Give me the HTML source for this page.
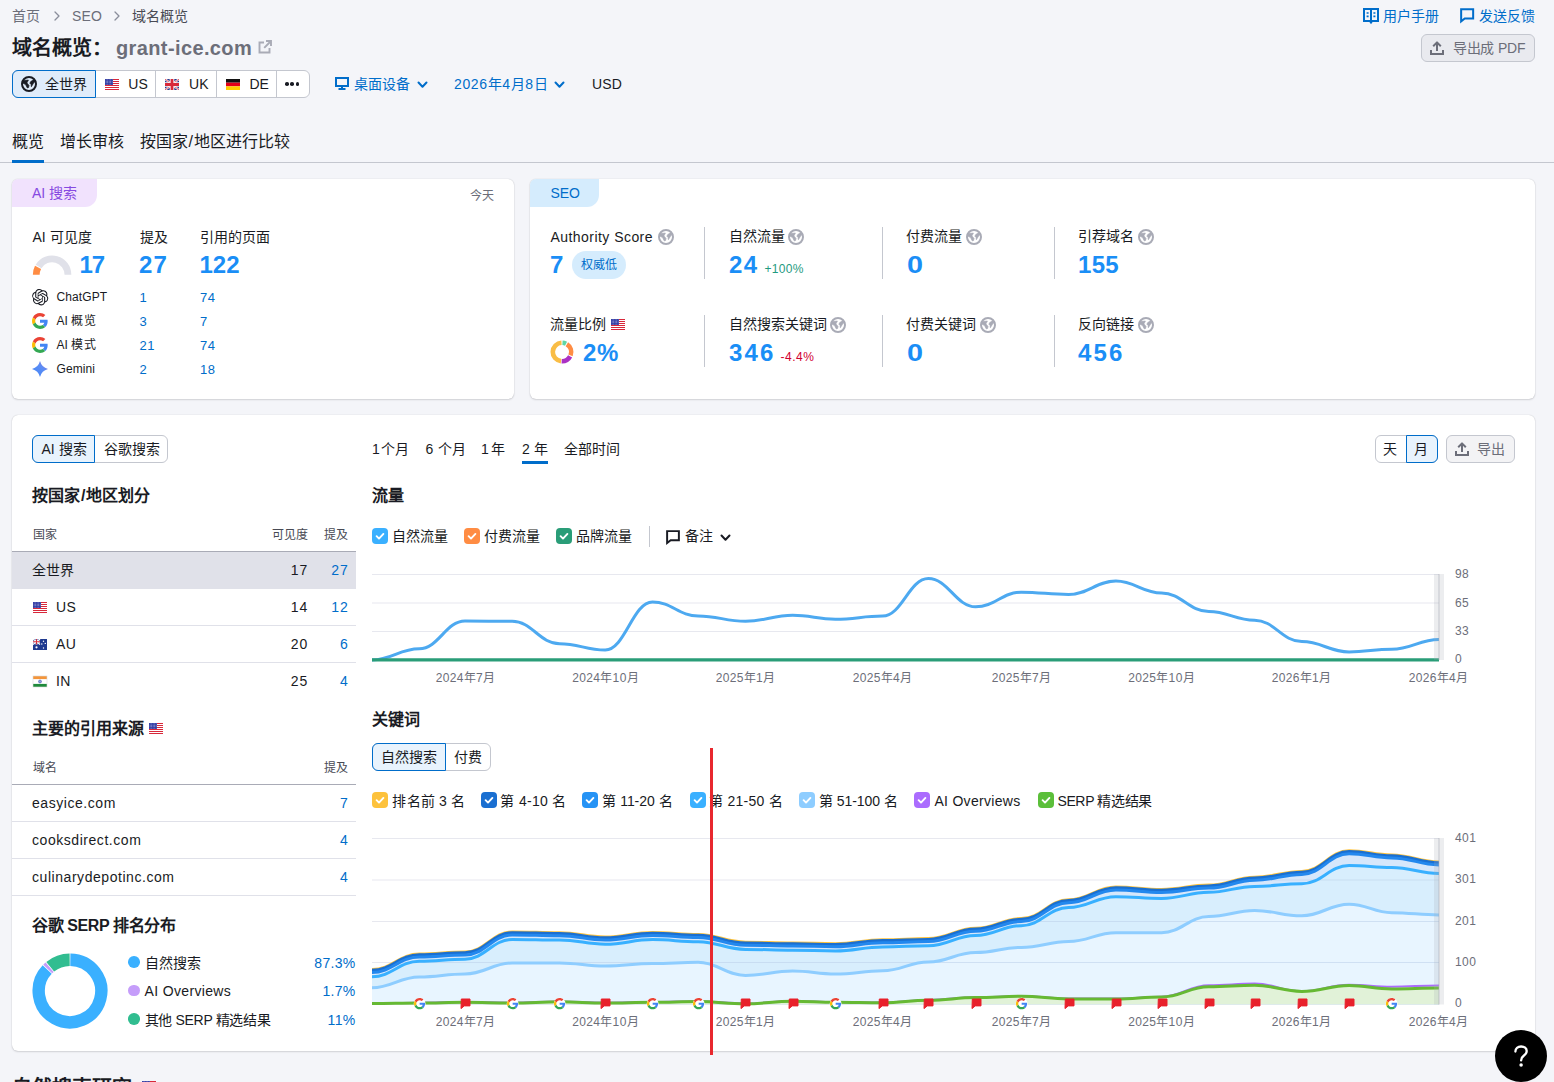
<!DOCTYPE html>
<html lang="zh-CN"><head><meta charset="utf-8"><title>域名概览</title><style>
html,body{margin:0;padding:0;}
body{width:1554px;height:1082px;overflow:hidden;background:#f4f5f9;font-family:"Liberation Sans", sans-serif;color:#191b23;position:relative;}
.a{position:absolute;box-sizing:border-box;}
.t{position:absolute;white-space:nowrap;}
.card{position:absolute;background:#fff;border-radius:6px;box-shadow:0 0 1px rgba(25,27,35,.25),0 1px 2px rgba(25,27,35,.14);}
svg{overflow:visible;display:block}
</style></head><body>
<div class="t" style="left:12px;top:9.45px;font-size:14px;line-height:14px;color:#6c6e79;">首页</div>
<svg class="a" style="left:54px;top:11px;" width="6" height="10" viewBox="0 0 6 10"><path d="M1 1L5 5L1 9" fill="none" stroke="#8a8e9b" stroke-width="1.3" stroke-linecap="round" stroke-linejoin="round"/></svg>
<div class="t" style="left:72px;top:9.15px;font-size:14px;line-height:14px;color:#6c6e79;letter-spacing:0.2px;">SEO</div>
<svg class="a" style="left:114px;top:11px;" width="6" height="10" viewBox="0 0 6 10"><path d="M1 1L5 5L1 9" fill="none" stroke="#8a8e9b" stroke-width="1.3" stroke-linecap="round" stroke-linejoin="round"/></svg>
<div class="t" style="left:132px;top:9.45px;font-size:14px;line-height:14px;color:#484a54;">域名概览</div>
<div class="t" style="left:12px;top:37.57px;font-size:20px;line-height:20px;color:#191b23;font-weight:700;">域名概览：</div>
<div class="t" style="left:116px;top:37.57px;font-size:20px;line-height:20px;color:#6c6e79;font-weight:700;letter-spacing:0.38px;">grant-ice.com</div>
<svg class="a" style="left:258px;top:40px;" width="14" height="14" viewBox="0 0 14 14"><path d="M6 2.5H1.5V12.5H11.5V8" fill="none" stroke="#a9abb6" stroke-width="1.9"/><path d="M8 1H13V6M13 1L6.2 7.8" fill="none" stroke="#a9abb6" stroke-width="1.9"/></svg>
<svg class="a" style="left:1363px;top:8px;" width="16" height="16" viewBox="0 0 16 16"><path d="M1 1H15V13H9.2L8 14.6L6.8 13H1z" fill="none" stroke="#006dca" stroke-width="2" stroke-linejoin="miter"/><path d="M8 1V13.5" stroke="#006dca" stroke-width="2"/><path d="M3.6 5H5.6M3.6 8.4H5.6M10.4 5H12.4M10.4 8.4H12.4" stroke="#006dca" stroke-width="1.7"/></svg>
<div class="t" style="left:1382.6px;top:9.45px;font-size:14px;line-height:14px;color:#006dca;">用户手册</div>
<svg class="a" style="left:1460px;top:8px;width:14.3px;height:14.3px;" width="15" height="15" viewBox="0 0 15 15"><path d="M1.2 1.2H13.8V11H5L1.2 14z" fill="none" stroke="#006dca" stroke-width="2.1" stroke-linejoin="miter"/></svg>
<div class="t" style="left:1478.8px;top:9.45px;font-size:14px;line-height:14px;color:#006dca;">发送反馈</div>
<div class="a" style="left:1421px;top:34px;width:114px;height:28px;background:rgba(138,142,155,.1);border:1px solid #c4c7cf;border-radius:6px;"></div>
<svg class="a" style="left:1430px;top:41px;" width="14" height="14" viewBox="0 0 14 14"><path d="M1 9V13H13V9" fill="none" stroke="#6c6e79" stroke-width="2" stroke-linejoin="miter"/><path d="M7 10V2M3.2 5.2L7 1.4L10.8 5.2" fill="none" stroke="#6c6e79" stroke-width="2" stroke-linejoin="round" stroke-linecap="butt"/></svg>
<div class="t" style="left:1452.8px;top:41.45px;font-size:14px;line-height:14px;color:#6c6e79;letter-spacing:-0.2px;">导出成 PDF</div>
<div class="a" style="left:12px;top:70px;width:298px;height:28px;background:#fff;border:1px solid #c4c7cf;border-radius:6px;"></div>
<div class="a" style="left:12px;top:70px;width:84px;height:28px;background:#e0ecfa;border:1px solid #006dca;border-radius:6px 0 0 6px;"></div>
<div class="a" style="left:155px;top:71px;width:1px;height:26px;background:#c4c7cf;"></div>
<div class="a" style="left:216px;top:71px;width:1px;height:26px;background:#c4c7cf;"></div>
<div class="a" style="left:276px;top:71px;width:1px;height:26px;background:#c4c7cf;"></div>
<svg class="a" style="left:21px;top:76px;" width="16" height="16" viewBox="0 0 16 16"><circle cx="8" cy="8" r="7" fill="none" stroke="#191b23" stroke-width="2"/><path d="M1.6 4.5L7.4 4.1L5.9 6.9L8 9.4L7.6 11.5L6.3 11.9L4.6 8.6L1.8 7.1z" fill="#191b23" stroke="#191b23" stroke-width=".7" stroke-linejoin="round"/><path d="M12.6 3.7L9.7 5.6L8.9 7.2L10.1 8.4L10.35 10.7L12.6 7L14.4 5.2z" fill="#191b23" stroke="#191b23" stroke-width=".7" stroke-linejoin="round"/></svg>
<div class="t" style="left:45.3px;top:77.45px;font-size:14px;line-height:14px;color:#191b23;">全世界</div>
<svg class="a" style="left:105px;top:79px;overflow:hidden" width="14" height="11" viewBox="0 0 14 11"><g shape-rendering="crispEdges"><rect width="14" height="11" fill="#fff"/><rect x="0" y="0" width="14" height="1" fill="#d8283a"/><rect x="0" y="2" width="14" height="1" fill="#d8283a"/><rect x="0" y="4" width="14" height="1" fill="#d8283a"/><rect x="0" y="6" width="14" height="1" fill="#d8283a"/><rect x="0" y="8" width="14" height="1" fill="#d8283a"/><rect x="0" y="10" width="14" height="1" fill="#d8283a"/><rect width="8" height="6" fill="#2f3aa3"/></g><circle cx="1.10" cy="0.90" r=".42" fill="#fff" opacity=".8"/><circle cx="1.10" cy="2.30" r=".42" fill="#fff" opacity=".8"/><circle cx="1.10" cy="3.70" r=".42" fill="#fff" opacity=".8"/><circle cx="1.10" cy="5.10" r=".42" fill="#fff" opacity=".8"/><circle cx="2.60" cy="0.90" r=".42" fill="#fff" opacity=".8"/><circle cx="2.60" cy="2.30" r=".42" fill="#fff" opacity=".8"/><circle cx="2.60" cy="3.70" r=".42" fill="#fff" opacity=".8"/><circle cx="2.60" cy="5.10" r=".42" fill="#fff" opacity=".8"/><circle cx="4.10" cy="0.90" r=".42" fill="#fff" opacity=".8"/><circle cx="4.10" cy="2.30" r=".42" fill="#fff" opacity=".8"/><circle cx="4.10" cy="3.70" r=".42" fill="#fff" opacity=".8"/><circle cx="4.10" cy="5.10" r=".42" fill="#fff" opacity=".8"/><circle cx="5.60" cy="0.90" r=".42" fill="#fff" opacity=".8"/><circle cx="5.60" cy="2.30" r=".42" fill="#fff" opacity=".8"/><circle cx="5.60" cy="3.70" r=".42" fill="#fff" opacity=".8"/><circle cx="5.60" cy="5.10" r=".42" fill="#fff" opacity=".8"/><circle cx="7.10" cy="0.90" r=".42" fill="#fff" opacity=".8"/><circle cx="7.10" cy="2.30" r=".42" fill="#fff" opacity=".8"/><circle cx="7.10" cy="3.70" r=".42" fill="#fff" opacity=".8"/><circle cx="7.10" cy="5.10" r=".42" fill="#fff" opacity=".8"/></svg>
<div class="t" style="left:128.3px;top:77.15px;font-size:14px;line-height:14px;color:#191b23;letter-spacing:0.1px;">US</div>
<svg class="a" style="left:165px;top:79px;overflow:hidden" width="14" height="11" viewBox="0 0 14 11"><rect width="14" height="11" fill="#2a3b8f"/><path d="M0 0L14 11M14 0L0 11" stroke="#fff" stroke-width="2"/><path d="M0 0L14 11M14 0L0 11" stroke="#d8283a" stroke-width="0.8"/><path d="M7.0 0V11M0 5.5H14" stroke="#fff" stroke-width="4.6"/><path d="M7.0 0V11M0 5.5H14" stroke="#d8283a" stroke-width="2.8"/></svg>
<div class="t" style="left:189px;top:77.15px;font-size:14px;line-height:14px;color:#191b23;letter-spacing:0.1px;">UK</div>
<svg class="a" style="left:226px;top:79px;" width="14" height="11" viewBox="0 0 14 11"><rect width="14" height="3.67" fill="#111"/><rect y="3.67" width="14" height="3.67" fill="#e2001a"/><rect y="7.33" width="14" height="3.67" fill="#ffce00"/></svg>
<div class="t" style="left:249.5px;top:77.15px;font-size:14px;line-height:14px;color:#191b23;">DE</div>
<div class="a" style="left:285.0px;top:82.4px;width:3.6px;height:3.6px;background:#191b23;border-radius:50%;"></div>
<div class="a" style="left:290.3px;top:82.4px;width:3.6px;height:3.6px;background:#191b23;border-radius:50%;"></div>
<div class="a" style="left:295.6px;top:82.4px;width:3.6px;height:3.6px;background:#191b23;border-radius:50%;"></div>
<svg class="a" style="left:335px;top:77px;" width="14" height="13" viewBox="0 0 14 13"><rect x="1" y="1" width="12" height="8" fill="none" stroke="#006dca" stroke-width="2"/><path d="M7 9V12M3.5 12H10.5" stroke="#006dca" stroke-width="2"/></svg>
<div class="t" style="left:354px;top:77.45px;font-size:14px;line-height:14px;color:#006dca;">桌面设备</div>
<svg class="a" style="left:416.5px;top:80.5px;" width="11" height="7.6" viewBox="0 0 11 7.6"><path d="M1.5 1.5L5.5 5.8L9.5 1.5" fill="none" stroke="#006dca" stroke-width="2" stroke-linecap="round" stroke-linejoin="round"/></svg>
<div class="t" style="left:454px;top:77.15px;font-size:14px;line-height:14px;color:#006dca;letter-spacing:0.6px;">2026年4月8日</div>
<svg class="a" style="left:553.5px;top:80.5px;" width="11" height="7.6" viewBox="0 0 11 7.6"><path d="M1.5 1.5L5.5 5.8L9.5 1.5" fill="none" stroke="#006dca" stroke-width="2" stroke-linecap="round" stroke-linejoin="round"/></svg>
<div class="t" style="left:592px;top:77.15px;font-size:14px;line-height:14px;color:#191b23;letter-spacing:0.2px;">USD</div>
<div class="t" style="left:12px;top:134.46px;font-size:16px;line-height:16px;color:#191b23;">概览</div>
<div class="t" style="left:60px;top:134.46px;font-size:16px;line-height:16px;color:#191b23;">增长审核</div>
<div class="t" style="left:140px;top:134.46px;font-size:16px;line-height:16px;color:#191b23;">按国家<span style="margin:0 0.6px">/</span>地区进行比较</div>
<div class="a" style="left:0px;top:162px;width:1554px;height:1px;background:#c4c7cf;"></div>
<div class="a" style="left:12px;top:160px;width:32px;height:3px;background:#006dca;"></div>
<div class="card" style="left:12px;top:179px;width:502px;height:220px;"></div>
<div class="card" style="left:530px;top:179px;width:1005px;height:220px;"></div>
<div class="a" style="left:12px;top:179px;width:85px;height:28px;background:#f1e2fd;border-radius:6px 0 12px 0;"></div>
<div class="t" style="left:32px;top:186.45px;font-size:14px;line-height:14px;color:#8649e1;">AI 搜索</div>
<div class="t" style="left:470px;top:190.24px;font-size:12px;line-height:12px;color:#6c6e79;">今天</div>
<div class="t" style="left:32.5px;top:229.95px;font-size:14px;line-height:14px;color:#191b23;">AI 可见度</div>
<div class="t" style="left:139.5px;top:229.95px;font-size:14px;line-height:14px;color:#191b23;">提及</div>
<div class="t" style="left:200px;top:229.95px;font-size:14px;line-height:14px;color:#191b23;">引用的页面</div>
<svg class="a" style="left:32px;top:254px;" width="40" height="22" viewBox="0 0 40 22"><path d="M6.59 12.42A15.85 15.85 0 0 1 35.95 20.70" fill="none" stroke="#e0e1e9" stroke-width="6.8"/><path d="M4.25 20.70A15.85 15.85 0 0 1 6.04 13.38" fill="none" stroke="#ff8c43" stroke-width="6.8"/></svg>
<div class="t" style="left:79.5px;top:252.68px;font-size:24px;line-height:24px;color:#1a8ef6;font-weight:700;letter-spacing:-1.2px;">17</div>
<div class="t" style="left:139px;top:252.68px;font-size:24px;line-height:24px;color:#1a8ef6;font-weight:700;letter-spacing:1.2px;">27</div>
<div class="t" style="left:199.5px;top:252.68px;font-size:24px;line-height:24px;color:#1a8ef6;font-weight:700;">122</div>
<div class="t" style="left:56.5px;top:291.14px;font-size:12px;line-height:12px;color:#191b23;letter-spacing:0.1px;">ChatGPT</div>
<div class="t" style="left:139.5px;top:290.70px;font-size:13px;line-height:13px;color:#006dca;letter-spacing:0.5px;">1</div>
<div class="t" style="left:200px;top:290.70px;font-size:13px;line-height:13px;color:#006dca;letter-spacing:0.5px;">74</div>
<div class="t" style="left:56.5px;top:315.14px;font-size:12px;line-height:12px;color:#191b23;letter-spacing:0.1px;">AI 概览</div>
<div class="t" style="left:139.5px;top:314.70px;font-size:13px;line-height:13px;color:#006dca;letter-spacing:0.5px;">3</div>
<div class="t" style="left:200px;top:314.70px;font-size:13px;line-height:13px;color:#006dca;letter-spacing:0.5px;">7</div>
<div class="t" style="left:56.5px;top:339.14px;font-size:12px;line-height:12px;color:#191b23;letter-spacing:0.1px;">AI 模式</div>
<div class="t" style="left:139.5px;top:338.70px;font-size:13px;line-height:13px;color:#006dca;letter-spacing:0.5px;">21</div>
<div class="t" style="left:200px;top:338.70px;font-size:13px;line-height:13px;color:#006dca;letter-spacing:0.5px;">74</div>
<div class="t" style="left:56.5px;top:363.14px;font-size:12px;line-height:12px;color:#191b23;letter-spacing:0.1px;">Gemini</div>
<div class="t" style="left:139.5px;top:362.70px;font-size:13px;line-height:13px;color:#006dca;letter-spacing:0.5px;">2</div>
<div class="t" style="left:200px;top:362.70px;font-size:13px;line-height:13px;color:#006dca;letter-spacing:0.5px;">18</div>
<svg class="a" style="left:31.8px;top:288.8px" width="16.4" height="16.4" viewBox="0 0 24 24"><path fill="#191b23" d="M22.2819 9.8211a5.9847 5.9847 0 0 0-.5157-4.9108 6.0462 6.0462 0 0 0-6.5098-2.9A6.0651 6.0651 0 0 0 4.9807 4.1818a5.9847 5.9847 0 0 0-3.9977 2.9 6.0462 6.0462 0 0 0 .7427 7.0966 5.98 5.98 0 0 0 .511 4.9107 6.051 6.051 0 0 0 6.5146 2.9001A5.9847 5.9847 0 0 0 13.2599 24a6.0557 6.0557 0 0 0 5.7718-4.2058 5.9894 5.9894 0 0 0 3.9977-2.9001 6.0557 6.0557 0 0 0-.7475-7.0729zm-9.022 12.6081a4.4755 4.4755 0 0 1-2.8764-1.0408l.1419-.0804 4.7783-2.7582a.7948.7948 0 0 0 .3927-.6813v-6.7369l2.02 1.1686a.071.071 0 0 1 .038.052v5.5826a4.504 4.504 0 0 1-4.4945 4.4944zm-9.6607-4.1254a4.4708 4.4708 0 0 1-.5346-3.0137l.142.0852 4.783 2.7582a.7712.7712 0 0 0 .7806 0l5.8428-3.3685v2.3324a.0804.0804 0 0 1-.0332.0615L9.74 19.9502a4.4992 4.4992 0 0 1-6.1408-1.6464zM2.3408 7.8956a4.485 4.485 0 0 1 2.3655-1.9728V11.6a.7664.7664 0 0 0 .3879.6765l5.8144 3.3543-2.0201 1.1685a.0757.0757 0 0 1-.071 0l-4.8303-2.7865A4.504 4.504 0 0 1 2.3408 7.872zm16.5963 3.8558L13.1038 8.364 15.1192 7.2a.0757.0757 0 0 1 .071 0l4.8303 2.7913a4.4944 4.4944 0 0 1-.6765 8.1042v-5.6772a.79.79 0 0 0-.407-.667zm2.0107-3.0231l-.142-.0852-4.7735-2.7818a.7759.7759 0 0 0-.7854 0L9.409 9.2297V6.8974a.0662.0662 0 0 1 .0284-.0615l4.8303-2.7866a4.4992 4.4992 0 0 1 6.6802 4.66zM8.3065 12.863l-2.02-1.1638a.0804.0804 0 0 1-.038-.0567V6.0742a4.4992 4.4992 0 0 1 7.3757-3.4537l-.142.0805L8.704 5.459a.7948.7948 0 0 0-.3927.6813zm1.0976-2.3654l2.602-1.4998 2.6069 1.4998v2.9994l-2.5974 1.4997-2.6067-1.4997Z"/></svg>
<svg class="a" style="left:32.0px;top:313.0px" width="16" height="16" viewBox="0 0 48 48"><path fill="#EA4335" d="M24 9.5c3.54 0 6.71 1.22 9.21 3.6l6.85-6.85C35.9 2.38 30.47 0 24 0 14.62 0 6.51 5.38 2.56 13.22l7.98 6.19C12.43 13.72 17.74 9.5 24 9.5z"/><path fill="#4285F4" d="M46.98 24.55c0-1.57-.15-3.09-.38-4.55H24v9.02h12.94c-.58 2.96-2.26 5.48-4.78 7.18l7.73 6c4.51-4.18 7.09-10.36 7.09-17.65z"/><path fill="#FBBC05" d="M10.53 28.59c-.48-1.45-.76-2.99-.76-4.59s.27-3.14.76-4.59l-7.98-6.19C.92 16.46 0 20.12 0 24c0 3.88.92 7.54 2.56 10.78l7.97-6.19z"/><path fill="#34A853" d="M24 48c6.48 0 11.93-2.13 15.89-5.81l-7.73-6c-2.15 1.45-4.92 2.3-8.16 2.3-6.26 0-11.57-4.22-13.47-9.91l-7.98 6.19C6.51 42.62 14.62 48 24 48z"/></svg>
<svg class="a" style="left:32.0px;top:337.0px" width="16" height="16" viewBox="0 0 48 48"><path fill="#EA4335" d="M24 9.5c3.54 0 6.71 1.22 9.21 3.6l6.85-6.85C35.9 2.38 30.47 0 24 0 14.62 0 6.51 5.38 2.56 13.22l7.98 6.19C12.43 13.72 17.74 9.5 24 9.5z"/><path fill="#4285F4" d="M46.98 24.55c0-1.57-.15-3.09-.38-4.55H24v9.02h12.94c-.58 2.96-2.26 5.48-4.78 7.18l7.73 6c4.51-4.18 7.09-10.36 7.09-17.65z"/><path fill="#FBBC05" d="M10.53 28.59c-.48-1.45-.76-2.99-.76-4.59s.27-3.14.76-4.59l-7.98-6.19C.92 16.46 0 20.12 0 24c0 3.88.92 7.54 2.56 10.78l7.97-6.19z"/><path fill="#34A853" d="M24 48c6.48 0 11.93-2.13 15.89-5.81l-7.73-6c-2.15 1.45-4.92 2.3-8.16 2.3-6.26 0-11.57-4.22-13.47-9.91l-7.98 6.19C6.51 42.62 14.62 48 24 48z"/></svg>
<svg class="a" style="left:32px;top:361px" width="16" height="16" viewBox="0 0 16 16"><defs><linearGradient id="gem" x1="0" y1="1" x2="1" y2="0"><stop offset="0" stop-color="#4285f4"/><stop offset=".6" stop-color="#5b8df6"/><stop offset="1" stop-color="#9b72cb"/></linearGradient></defs><path d="M8 0Q9.7 6.3 16 8Q9.7 9.7 8 16Q6.3 9.7 0 8Q6.3 6.3 8 0z" fill="url(#gem)"/></svg>
<div class="a" style="left:530px;top:179px;width:69px;height:28px;background:#d5ecfd;border-radius:6px 0 12px 0;"></div>
<div class="t" style="left:550.5px;top:186.35px;font-size:14px;line-height:14px;color:#006dca;letter-spacing:-0.1px;">SEO</div>
<div class="t" style="left:550.5px;top:229.95px;font-size:14px;line-height:14px;color:#191b23;letter-spacing:0.45px;">Authority Score</div>
<div class="t" style="left:550.0px;top:252.68px;font-size:24px;line-height:24px;color:#1a8ef6;font-weight:700;">7</div>
<svg class="a" style="left:658px;top:229px;" width="16" height="16" viewBox="0 0 16 16"><circle cx="8" cy="8" r="7" fill="none" stroke="#a9abb6" stroke-width="2"/><path d="M1.6 4.5L7.4 4.1L5.9 6.9L8 9.4L7.6 11.5L6.3 11.9L4.6 8.6L1.8 7.1z" fill="#a9abb6" stroke="#a9abb6" stroke-width=".7" stroke-linejoin="round"/><path d="M12.6 3.7L9.7 5.6L8.9 7.2L10.1 8.4L10.35 10.7L12.6 7L14.4 5.2z" fill="#a9abb6" stroke="#a9abb6" stroke-width=".7" stroke-linejoin="round"/></svg>
<div class="t" style="left:728.5px;top:229.15px;font-size:14px;line-height:14px;color:#191b23;">自然流量</div>
<div class="t" style="left:729.0px;top:252.68px;font-size:24px;line-height:24px;color:#1a8ef6;font-weight:700;letter-spacing:1.3px;">24</div>
<svg class="a" style="left:788px;top:229px;" width="16" height="16" viewBox="0 0 16 16"><circle cx="8" cy="8" r="7" fill="none" stroke="#a9abb6" stroke-width="2"/><path d="M1.6 4.5L7.4 4.1L5.9 6.9L8 9.4L7.6 11.5L6.3 11.9L4.6 8.6L1.8 7.1z" fill="#a9abb6" stroke="#a9abb6" stroke-width=".7" stroke-linejoin="round"/><path d="M12.6 3.7L9.7 5.6L8.9 7.2L10.1 8.4L10.35 10.7L12.6 7L14.4 5.2z" fill="#a9abb6" stroke="#a9abb6" stroke-width=".7" stroke-linejoin="round"/></svg>
<div class="t" style="left:906px;top:229.15px;font-size:14px;line-height:14px;color:#191b23;">付费流量</div>
<div class="t" style="left:906.5px;top:252.68px;font-size:24px;line-height:24px;color:#1a8ef6;font-weight:700;transform:scaleX(1.2);transform-origin:0 0;">0</div>
<svg class="a" style="left:966px;top:229px;" width="16" height="16" viewBox="0 0 16 16"><circle cx="8" cy="8" r="7" fill="none" stroke="#a9abb6" stroke-width="2"/><path d="M1.6 4.5L7.4 4.1L5.9 6.9L8 9.4L7.6 11.5L6.3 11.9L4.6 8.6L1.8 7.1z" fill="#a9abb6" stroke="#a9abb6" stroke-width=".7" stroke-linejoin="round"/><path d="M12.6 3.7L9.7 5.6L8.9 7.2L10.1 8.4L10.35 10.7L12.6 7L14.4 5.2z" fill="#a9abb6" stroke="#a9abb6" stroke-width=".7" stroke-linejoin="round"/></svg>
<div class="t" style="left:1077.5px;top:229.15px;font-size:14px;line-height:14px;color:#191b23;">引荐域名</div>
<div class="t" style="left:1078.0px;top:252.68px;font-size:24px;line-height:24px;color:#1a8ef6;font-weight:700;letter-spacing:0.3px;">155</div>
<svg class="a" style="left:1138px;top:229px;" width="16" height="16" viewBox="0 0 16 16"><circle cx="8" cy="8" r="7" fill="none" stroke="#a9abb6" stroke-width="2"/><path d="M1.6 4.5L7.4 4.1L5.9 6.9L8 9.4L7.6 11.5L6.3 11.9L4.6 8.6L1.8 7.1z" fill="#a9abb6" stroke="#a9abb6" stroke-width=".7" stroke-linejoin="round"/><path d="M12.6 3.7L9.7 5.6L8.9 7.2L10.1 8.4L10.35 10.7L12.6 7L14.4 5.2z" fill="#a9abb6" stroke="#a9abb6" stroke-width=".7" stroke-linejoin="round"/></svg>
<div class="t" style="left:549.5px;top:317.15px;font-size:14px;line-height:14px;color:#191b23;">流量比例</div>
<div class="t" style="left:728.5px;top:317.15px;font-size:14px;line-height:14px;color:#191b23;">自然搜索关键词</div>
<div class="t" style="left:729.0px;top:340.68px;font-size:24px;line-height:24px;color:#1a8ef6;font-weight:700;letter-spacing:2.1px;">346</div>
<svg class="a" style="left:830px;top:317px;" width="16" height="16" viewBox="0 0 16 16"><circle cx="8" cy="8" r="7" fill="none" stroke="#a9abb6" stroke-width="2"/><path d="M1.6 4.5L7.4 4.1L5.9 6.9L8 9.4L7.6 11.5L6.3 11.9L4.6 8.6L1.8 7.1z" fill="#a9abb6" stroke="#a9abb6" stroke-width=".7" stroke-linejoin="round"/><path d="M12.6 3.7L9.7 5.6L8.9 7.2L10.1 8.4L10.35 10.7L12.6 7L14.4 5.2z" fill="#a9abb6" stroke="#a9abb6" stroke-width=".7" stroke-linejoin="round"/></svg>
<div class="t" style="left:906px;top:317.15px;font-size:14px;line-height:14px;color:#191b23;">付费关键词</div>
<div class="t" style="left:906.5px;top:340.68px;font-size:24px;line-height:24px;color:#1a8ef6;font-weight:700;transform:scaleX(1.2);transform-origin:0 0;">0</div>
<svg class="a" style="left:980px;top:317px;" width="16" height="16" viewBox="0 0 16 16"><circle cx="8" cy="8" r="7" fill="none" stroke="#a9abb6" stroke-width="2"/><path d="M1.6 4.5L7.4 4.1L5.9 6.9L8 9.4L7.6 11.5L6.3 11.9L4.6 8.6L1.8 7.1z" fill="#a9abb6" stroke="#a9abb6" stroke-width=".7" stroke-linejoin="round"/><path d="M12.6 3.7L9.7 5.6L8.9 7.2L10.1 8.4L10.35 10.7L12.6 7L14.4 5.2z" fill="#a9abb6" stroke="#a9abb6" stroke-width=".7" stroke-linejoin="round"/></svg>
<div class="t" style="left:1077.5px;top:317.15px;font-size:14px;line-height:14px;color:#191b23;">反向链接</div>
<div class="t" style="left:1078.0px;top:340.68px;font-size:24px;line-height:24px;color:#1a8ef6;font-weight:700;letter-spacing:2.1px;">456</div>
<svg class="a" style="left:1138px;top:317px;" width="16" height="16" viewBox="0 0 16 16"><circle cx="8" cy="8" r="7" fill="none" stroke="#a9abb6" stroke-width="2"/><path d="M1.6 4.5L7.4 4.1L5.9 6.9L8 9.4L7.6 11.5L6.3 11.9L4.6 8.6L1.8 7.1z" fill="#a9abb6" stroke="#a9abb6" stroke-width=".7" stroke-linejoin="round"/><path d="M12.6 3.7L9.7 5.6L8.9 7.2L10.1 8.4L10.35 10.7L12.6 7L14.4 5.2z" fill="#a9abb6" stroke="#a9abb6" stroke-width=".7" stroke-linejoin="round"/></svg>
<svg class="a" style="left:611px;top:319.3px;overflow:hidden" width="14" height="11" viewBox="0 0 14 11"><g shape-rendering="crispEdges"><rect width="14" height="11" fill="#fff"/><rect x="0" y="0" width="14" height="1" fill="#d8283a"/><rect x="0" y="2" width="14" height="1" fill="#d8283a"/><rect x="0" y="4" width="14" height="1" fill="#d8283a"/><rect x="0" y="6" width="14" height="1" fill="#d8283a"/><rect x="0" y="8" width="14" height="1" fill="#d8283a"/><rect x="0" y="10" width="14" height="1" fill="#d8283a"/><rect width="8" height="6" fill="#2f3aa3"/></g><circle cx="1.10" cy="0.90" r=".42" fill="#fff" opacity=".8"/><circle cx="1.10" cy="2.30" r=".42" fill="#fff" opacity=".8"/><circle cx="1.10" cy="3.70" r=".42" fill="#fff" opacity=".8"/><circle cx="1.10" cy="5.10" r=".42" fill="#fff" opacity=".8"/><circle cx="2.60" cy="0.90" r=".42" fill="#fff" opacity=".8"/><circle cx="2.60" cy="2.30" r=".42" fill="#fff" opacity=".8"/><circle cx="2.60" cy="3.70" r=".42" fill="#fff" opacity=".8"/><circle cx="2.60" cy="5.10" r=".42" fill="#fff" opacity=".8"/><circle cx="4.10" cy="0.90" r=".42" fill="#fff" opacity=".8"/><circle cx="4.10" cy="2.30" r=".42" fill="#fff" opacity=".8"/><circle cx="4.10" cy="3.70" r=".42" fill="#fff" opacity=".8"/><circle cx="4.10" cy="5.10" r=".42" fill="#fff" opacity=".8"/><circle cx="5.60" cy="0.90" r=".42" fill="#fff" opacity=".8"/><circle cx="5.60" cy="2.30" r=".42" fill="#fff" opacity=".8"/><circle cx="5.60" cy="3.70" r=".42" fill="#fff" opacity=".8"/><circle cx="5.60" cy="5.10" r=".42" fill="#fff" opacity=".8"/><circle cx="7.10" cy="0.90" r=".42" fill="#fff" opacity=".8"/><circle cx="7.10" cy="2.30" r=".42" fill="#fff" opacity=".8"/><circle cx="7.10" cy="3.70" r=".42" fill="#fff" opacity=".8"/><circle cx="7.10" cy="5.10" r=".42" fill="#fff" opacity=".8"/></svg>
<div class="t" style="left:583px;top:340.68px;font-size:24px;line-height:24px;color:#1a8ef6;font-weight:700;letter-spacing:0.6px;">2%</div>
<div class="a" style="left:704px;top:227px;width:1px;height:52px;background:#c4c7cf;"></div>
<div class="a" style="left:704px;top:315px;width:1px;height:52px;background:#c4c7cf;"></div>
<div class="a" style="left:882px;top:227px;width:1px;height:52px;background:#c4c7cf;"></div>
<div class="a" style="left:882px;top:315px;width:1px;height:52px;background:#c4c7cf;"></div>
<div class="a" style="left:1054px;top:227px;width:1px;height:52px;background:#c4c7cf;"></div>
<div class="a" style="left:1054px;top:315px;width:1px;height:52px;background:#c4c7cf;"></div>
<div class="a" style="left:572px;top:251px;width:54px;height:28px;background:#d5ecfd;border-radius:14px;"></div>
<div class="t" style="left:581px;top:259.34px;font-size:12px;line-height:12px;color:#006dca;">权威低</div>
<div class="t" style="left:764.5px;top:262.84px;font-size:12px;line-height:12px;color:#1f9a80;letter-spacing:0.3px;">+100%</div>
<div class="t" style="left:780.5px;top:350.84px;font-size:12px;line-height:12px;color:#d1002f;letter-spacing:0.5px;">-4.4%</div>
<svg class="a" style="left:550px;top:340px;" width="24" height="24" viewBox="0 0 24 24"><path d="M12.48 2.81A9.2 9.2 0 0 1 16.03 3.73" fill="none" stroke="#5fd6a3" stroke-width="4.6"/><path d="M16.88 4.20A9.2 9.2 0 0 1 20.53 15.45" fill="none" stroke="#ff8c43" stroke-width="4.6"/><path d="M20.12 16.32A9.2 9.2 0 0 1 11.68 21.19" fill="none" stroke="#ab30c4" stroke-width="4.6"/><path d="M11.04 21.15A9.2 9.2 0 0 1 11.52 2.81" fill="none" stroke="#f9bd45" stroke-width="4.6"/></svg>
<div class="card" style="left:12px;top:415px;width:1523px;height:636px;"></div>
<div class="a" style="left:32px;top:435px;width:135.5px;height:28px;background:#fff;border:1px solid #c4c7cf;border-radius:6px;"></div>
<div class="a" style="left:32px;top:435px;width:63px;height:28px;background:#e8f3fd;border:1px solid #006dca;border-radius:6px 0 0 6px;"></div>
<div class="t" style="left:41.5px;top:442.35px;font-size:14px;line-height:14px;color:#191b23;">AI 搜索</div>
<div class="t" style="left:103.7px;top:442.35px;font-size:14px;line-height:14px;color:#191b23;">谷歌搜索</div>
<div class="t" style="left:32px;top:487.96px;font-size:16px;line-height:16px;color:#191b23;font-weight:700;">按国家<span style="margin:0 1px">/</span>地区划分</div>
<div class="t" style="left:32.5px;top:528.84px;font-size:12px;line-height:12px;color:#484a54;">国家</div>
<div class="t" style="right:1246.5px;top:528.84px;font-size:12px;line-height:12px;color:#484a54;">可见度</div>
<div class="t" style="right:1206.3px;top:528.84px;font-size:12px;line-height:12px;color:#484a54;">提及</div>
<div class="a" style="left:12px;top:551px;width:344px;height:1px;background:#a9abb6;"></div>
<div class="a" style="left:12px;top:552px;width:344px;height:36.5px;background:#e0e1e9;"></div>
<div class="a" style="left:12px;top:625px;width:344px;height:1px;background:#e0e1e9;"></div>
<div class="a" style="left:12px;top:662px;width:344px;height:1px;background:#e0e1e9;"></div>
<div class="t" style="left:32px;top:563.45px;font-size:14px;line-height:14px;color:#191b23;">全世界</div>
<div class="t" style="right:1245.6px;top:563.15px;font-size:14px;line-height:14px;color:#191b23;letter-spacing:1px;">17</div>
<div class="t" style="right:1205.3px;top:563.15px;font-size:14px;line-height:14px;color:#006dca;letter-spacing:1px;">27</div>
<svg class="a" style="left:33px;top:601.6px;overflow:hidden" width="14" height="11" viewBox="0 0 14 11"><g shape-rendering="crispEdges"><rect width="14" height="11" fill="#fff"/><rect x="0" y="0" width="14" height="1" fill="#d8283a"/><rect x="0" y="2" width="14" height="1" fill="#d8283a"/><rect x="0" y="4" width="14" height="1" fill="#d8283a"/><rect x="0" y="6" width="14" height="1" fill="#d8283a"/><rect x="0" y="8" width="14" height="1" fill="#d8283a"/><rect x="0" y="10" width="14" height="1" fill="#d8283a"/><rect width="8" height="6" fill="#2f3aa3"/></g><circle cx="1.10" cy="0.90" r=".42" fill="#fff" opacity=".8"/><circle cx="1.10" cy="2.30" r=".42" fill="#fff" opacity=".8"/><circle cx="1.10" cy="3.70" r=".42" fill="#fff" opacity=".8"/><circle cx="1.10" cy="5.10" r=".42" fill="#fff" opacity=".8"/><circle cx="2.60" cy="0.90" r=".42" fill="#fff" opacity=".8"/><circle cx="2.60" cy="2.30" r=".42" fill="#fff" opacity=".8"/><circle cx="2.60" cy="3.70" r=".42" fill="#fff" opacity=".8"/><circle cx="2.60" cy="5.10" r=".42" fill="#fff" opacity=".8"/><circle cx="4.10" cy="0.90" r=".42" fill="#fff" opacity=".8"/><circle cx="4.10" cy="2.30" r=".42" fill="#fff" opacity=".8"/><circle cx="4.10" cy="3.70" r=".42" fill="#fff" opacity=".8"/><circle cx="4.10" cy="5.10" r=".42" fill="#fff" opacity=".8"/><circle cx="5.60" cy="0.90" r=".42" fill="#fff" opacity=".8"/><circle cx="5.60" cy="2.30" r=".42" fill="#fff" opacity=".8"/><circle cx="5.60" cy="3.70" r=".42" fill="#fff" opacity=".8"/><circle cx="5.60" cy="5.10" r=".42" fill="#fff" opacity=".8"/><circle cx="7.10" cy="0.90" r=".42" fill="#fff" opacity=".8"/><circle cx="7.10" cy="2.30" r=".42" fill="#fff" opacity=".8"/><circle cx="7.10" cy="3.70" r=".42" fill="#fff" opacity=".8"/><circle cx="7.10" cy="5.10" r=".42" fill="#fff" opacity=".8"/></svg>
<div class="t" style="left:56px;top:600.25px;font-size:14px;line-height:14px;color:#191b23;letter-spacing:0.4px;">US</div>
<div class="t" style="right:1245.6px;top:600.25px;font-size:14px;line-height:14px;color:#191b23;letter-spacing:1px;">14</div>
<div class="t" style="right:1205.3px;top:600.25px;font-size:14px;line-height:14px;color:#006dca;letter-spacing:1px;">12</div>
<svg class="a" style="left:33px;top:638.7px;overflow:hidden" width="14" height="11" viewBox="0 0 14 11"><rect width="14" height="11" fill="#1f3a8f"/><g><rect width="7" height="5.5" fill="#1f3a8f"/><path d="M0 0L7 5.5M7 0L0 5.5" stroke="#fff" stroke-width="1.3"/><path d="M3.5 0V5.5M0 2.75H7" stroke="#fff" stroke-width="2"/><path d="M3.5 0V5.5M0 2.75H7" stroke="#d22f3c" stroke-width="1"/></g><circle cx="3.5" cy="8.3" r="1.1" fill="#fff"/><circle cx="10.5" cy="2.2" r=".7" fill="#fff"/><circle cx="10.5" cy="9" r=".7" fill="#fff"/><circle cx="8.8" cy="5" r=".7" fill="#fff"/><circle cx="12.3" cy="4.4" r=".7" fill="#fff"/></svg>
<div class="t" style="left:56px;top:637.35px;font-size:14px;line-height:14px;color:#191b23;letter-spacing:0.4px;">AU</div>
<div class="t" style="right:1245.6px;top:637.35px;font-size:14px;line-height:14px;color:#191b23;letter-spacing:1px;">20</div>
<div class="t" style="right:1205.3px;top:637.35px;font-size:14px;line-height:14px;color:#006dca;letter-spacing:1px;">6</div>
<svg class="a" style="left:33px;top:675.8px;" width="14" height="11" viewBox="0 0 14 11"><rect width="14" height="11" fill="#fff"/><rect width="14" height="3.1" fill="#f4953a"/><rect y="7.9" width="14" height="3.1" fill="#1f8a3b"/><circle cx="7.0" cy="5.5" r="1.5" fill="#8fa0dd" stroke="#3a4ba8" stroke-width=".5"/><rect width="14" height="11" fill="none" stroke="#d9d9d9" stroke-width=".6"/></svg>
<div class="t" style="left:56px;top:674.45px;font-size:14px;line-height:14px;color:#191b23;letter-spacing:0.4px;">IN</div>
<div class="t" style="right:1245.6px;top:674.45px;font-size:14px;line-height:14px;color:#191b23;letter-spacing:1px;">25</div>
<div class="t" style="right:1205.3px;top:674.45px;font-size:14px;line-height:14px;color:#006dca;letter-spacing:1px;">4</div>
<div class="t" style="left:32px;top:720.96px;font-size:16px;line-height:16px;color:#191b23;font-weight:700;">主要的引用来源</div>
<svg class="a" style="left:149px;top:722.5px;overflow:hidden" width="14" height="11" viewBox="0 0 14 11"><g shape-rendering="crispEdges"><rect width="14" height="11" fill="#fff"/><rect x="0" y="0" width="14" height="1" fill="#d8283a"/><rect x="0" y="2" width="14" height="1" fill="#d8283a"/><rect x="0" y="4" width="14" height="1" fill="#d8283a"/><rect x="0" y="6" width="14" height="1" fill="#d8283a"/><rect x="0" y="8" width="14" height="1" fill="#d8283a"/><rect x="0" y="10" width="14" height="1" fill="#d8283a"/><rect width="8" height="6" fill="#2f3aa3"/></g><circle cx="1.10" cy="0.90" r=".42" fill="#fff" opacity=".8"/><circle cx="1.10" cy="2.30" r=".42" fill="#fff" opacity=".8"/><circle cx="1.10" cy="3.70" r=".42" fill="#fff" opacity=".8"/><circle cx="1.10" cy="5.10" r=".42" fill="#fff" opacity=".8"/><circle cx="2.60" cy="0.90" r=".42" fill="#fff" opacity=".8"/><circle cx="2.60" cy="2.30" r=".42" fill="#fff" opacity=".8"/><circle cx="2.60" cy="3.70" r=".42" fill="#fff" opacity=".8"/><circle cx="2.60" cy="5.10" r=".42" fill="#fff" opacity=".8"/><circle cx="4.10" cy="0.90" r=".42" fill="#fff" opacity=".8"/><circle cx="4.10" cy="2.30" r=".42" fill="#fff" opacity=".8"/><circle cx="4.10" cy="3.70" r=".42" fill="#fff" opacity=".8"/><circle cx="4.10" cy="5.10" r=".42" fill="#fff" opacity=".8"/><circle cx="5.60" cy="0.90" r=".42" fill="#fff" opacity=".8"/><circle cx="5.60" cy="2.30" r=".42" fill="#fff" opacity=".8"/><circle cx="5.60" cy="3.70" r=".42" fill="#fff" opacity=".8"/><circle cx="5.60" cy="5.10" r=".42" fill="#fff" opacity=".8"/><circle cx="7.10" cy="0.90" r=".42" fill="#fff" opacity=".8"/><circle cx="7.10" cy="2.30" r=".42" fill="#fff" opacity=".8"/><circle cx="7.10" cy="3.70" r=".42" fill="#fff" opacity=".8"/><circle cx="7.10" cy="5.10" r=".42" fill="#fff" opacity=".8"/></svg>
<div class="t" style="left:32.5px;top:761.84px;font-size:12px;line-height:12px;color:#484a54;">域名</div>
<div class="t" style="right:1206.3px;top:761.84px;font-size:12px;line-height:12px;color:#484a54;">提及</div>
<div class="a" style="left:12px;top:784px;width:344px;height:1px;background:#a9abb6;"></div>
<div class="a" style="left:12px;top:821px;width:344px;height:1px;background:#e0e1e9;"></div>
<div class="a" style="left:12px;top:858px;width:344px;height:1px;background:#e0e1e9;"></div>
<div class="a" style="left:12px;top:895px;width:344px;height:1px;background:#e0e1e9;"></div>
<div class="t" style="left:32px;top:795.65px;font-size:14px;line-height:14px;color:#191b23;letter-spacing:0.55px;">easyice.com</div>
<div class="t" style="right:1206.3px;top:795.65px;font-size:14px;line-height:14px;color:#006dca;">7</div>
<div class="t" style="left:32px;top:832.65px;font-size:14px;line-height:14px;color:#191b23;letter-spacing:0.55px;">cooksdirect.com</div>
<div class="t" style="right:1206.3px;top:832.65px;font-size:14px;line-height:14px;color:#006dca;">4</div>
<div class="t" style="left:32px;top:869.65px;font-size:14px;line-height:14px;color:#191b23;letter-spacing:0.55px;">culinarydepotinc.com</div>
<div class="t" style="right:1206.3px;top:869.65px;font-size:14px;line-height:14px;color:#006dca;">4</div>
<div class="t" style="left:32px;top:917.96px;font-size:16px;line-height:16px;color:#191b23;font-weight:700;letter-spacing:-0.4px;">谷歌 SERP 排名分布</div>
<svg class="a" style="left:32px;top:953px;" width="76" height="76" viewBox="0 0 76 76"><path d="M38.33 6.70A31.3 31.3 0 1 1 15.18 16.57" fill="none" stroke="#3ab0ff" stroke-width="12.4"/><path d="M15.71 16.02A31.3 31.3 0 0 1 17.63 14.23" fill="none" stroke="#c59dfa" stroke-width="12.4"/><path d="M18.22 13.74A31.3 31.3 0 0 1 37.67 6.70" fill="none" stroke="#31bd90" stroke-width="12.4"/></svg>
<div class="a" style="left:128px;top:956.2px;width:11.6px;height:11.6px;background:#3ab0ff;border-radius:50%;"></div>
<div class="t" style="left:144.5px;top:955.85px;font-size:14px;line-height:14px;color:#191b23;">自然搜索</div>
<div class="t" style="right:1198.5px;top:955.65px;font-size:14px;line-height:14px;color:#006dca;letter-spacing:0.3px;">87.3%</div>
<div class="a" style="left:128px;top:984.7px;width:11.6px;height:11.6px;background:#c59dfa;border-radius:50%;"></div>
<div class="t" style="left:144.5px;top:984.35px;font-size:14px;line-height:14px;color:#191b23;letter-spacing:0.35px;">AI Overviews</div>
<div class="t" style="right:1198.5px;top:984.15px;font-size:14px;line-height:14px;color:#006dca;letter-spacing:0.3px;">1.7%</div>
<div class="a" style="left:128px;top:1013.2px;width:11.6px;height:11.6px;background:#31bd90;border-radius:50%;"></div>
<div class="t" style="left:144.5px;top:1012.85px;font-size:14px;line-height:14px;color:#191b23;letter-spacing:-0.3px;">其他 SERP 精选结果</div>
<div class="t" style="right:1198.5px;top:1012.65px;font-size:14px;line-height:14px;color:#006dca;letter-spacing:0.3px;">11%</div>
<div class="t" style="left:12px;top:1078.17px;font-size:20px;line-height:20px;color:#191b23;font-weight:700;">自然搜索研究</div>
<svg class="a" style="left:142px;top:1081.3px;overflow:hidden" width="14" height="11" viewBox="0 0 14 11"><g shape-rendering="crispEdges"><rect width="14" height="11" fill="#fff"/><rect x="0" y="0" width="14" height="1" fill="#d8283a"/><rect x="0" y="2" width="14" height="1" fill="#d8283a"/><rect x="0" y="4" width="14" height="1" fill="#d8283a"/><rect x="0" y="6" width="14" height="1" fill="#d8283a"/><rect x="0" y="8" width="14" height="1" fill="#d8283a"/><rect x="0" y="10" width="14" height="1" fill="#d8283a"/><rect width="8" height="6" fill="#2f3aa3"/></g><circle cx="1.10" cy="0.90" r=".42" fill="#fff" opacity=".8"/><circle cx="1.10" cy="2.30" r=".42" fill="#fff" opacity=".8"/><circle cx="1.10" cy="3.70" r=".42" fill="#fff" opacity=".8"/><circle cx="1.10" cy="5.10" r=".42" fill="#fff" opacity=".8"/><circle cx="2.60" cy="0.90" r=".42" fill="#fff" opacity=".8"/><circle cx="2.60" cy="2.30" r=".42" fill="#fff" opacity=".8"/><circle cx="2.60" cy="3.70" r=".42" fill="#fff" opacity=".8"/><circle cx="2.60" cy="5.10" r=".42" fill="#fff" opacity=".8"/><circle cx="4.10" cy="0.90" r=".42" fill="#fff" opacity=".8"/><circle cx="4.10" cy="2.30" r=".42" fill="#fff" opacity=".8"/><circle cx="4.10" cy="3.70" r=".42" fill="#fff" opacity=".8"/><circle cx="4.10" cy="5.10" r=".42" fill="#fff" opacity=".8"/><circle cx="5.60" cy="0.90" r=".42" fill="#fff" opacity=".8"/><circle cx="5.60" cy="2.30" r=".42" fill="#fff" opacity=".8"/><circle cx="5.60" cy="3.70" r=".42" fill="#fff" opacity=".8"/><circle cx="5.60" cy="5.10" r=".42" fill="#fff" opacity=".8"/><circle cx="7.10" cy="0.90" r=".42" fill="#fff" opacity=".8"/><circle cx="7.10" cy="2.30" r=".42" fill="#fff" opacity=".8"/><circle cx="7.10" cy="3.70" r=".42" fill="#fff" opacity=".8"/><circle cx="7.10" cy="5.10" r=".42" fill="#fff" opacity=".8"/></svg>
<div class="a" style="left:1495px;top:1030px;width:52.2px;height:52.2px;background:#000;border-radius:50%;"></div>
<svg class="a" style="left:1509.2px;top:1044px;" width="24" height="24" viewBox="-12 -12 24 24"><path d="M-5.6 -4.4C-5.6 -7.6 -3.2 -9.5 0.1 -9.5C3.3 -9.5 5.7 -7.7 5.7 -4.9C5.7 -2.6 4.4 -1.4 2.7 -0.2C1 1 0.1 2 0.1 4.4" fill="none" stroke="#fff" stroke-width="2.3" stroke-linecap="round"/><circle cx="0.1" cy="8.9" r="1.75" fill="#fff"/></svg>
<div class="t" style="left:372px;top:442.35px;font-size:14px;line-height:14px;color:#191b23;word-spacing:-2.7px;">1 个月</div>
<div class="t" style="left:425.5px;top:442.35px;font-size:14px;line-height:14px;color:#191b23;word-spacing:0.6px;">6 个月</div>
<div class="t" style="left:481px;top:442.35px;font-size:14px;line-height:14px;color:#191b23;word-spacing:-1.2px;">1 年</div>
<div class="t" style="left:522px;top:442.35px;font-size:14px;line-height:14px;color:#191b23;word-spacing:0px;">2 年</div>
<div class="t" style="left:564px;top:442.35px;font-size:14px;line-height:14px;color:#191b23;word-spacing:0px;">全部时间</div>
<div class="a" style="left:522px;top:461px;width:26px;height:3px;background:#006dca;"></div>
<div class="a" style="left:1375px;top:435px;width:63px;height:28px;background:#fff;border:1px solid #c4c7cf;border-radius:6px;"></div>
<div class="a" style="left:1406px;top:435px;width:32px;height:28px;background:#e8f3fd;border:1px solid #006dca;border-radius:0 6px 6px 0;"></div>
<div class="t" style="left:1383.3px;top:442.25px;font-size:14px;line-height:14px;color:#191b23;">天</div>
<div class="t" style="left:1414.3px;top:442.25px;font-size:14px;line-height:14px;color:#191b23;">月</div>
<div class="a" style="left:1446px;top:435px;width:69px;height:28px;background:rgba(138,142,155,.1);border:1px solid #c4c7cf;border-radius:6px;"></div>
<svg class="a" style="left:1455px;top:441.6px;" width="14" height="14" viewBox="0 0 14 14"><path d="M1 9V13H13V9" fill="none" stroke="#6c6e79" stroke-width="2" stroke-linejoin="miter"/><path d="M7 10V2M3.2 5.2L7 1.4L10.8 5.2" fill="none" stroke="#6c6e79" stroke-width="2" stroke-linejoin="round" stroke-linecap="butt"/></svg>
<div class="t" style="left:1477.3px;top:442.15px;font-size:14px;line-height:14px;color:#6c6e79;">导出</div>
<div class="t" style="left:372px;top:487.96px;font-size:16px;line-height:16px;color:#191b23;font-weight:700;">流量</div>
<svg class="a" style="left:372px;top:528px;" width="16" height="16" viewBox="0 0 16 16"><rect x="0" y="0" width="16" height="16" rx="4" fill="#3ab0ff"/><path d="M4.6 8.2L7 10.6L11.4 5.9" fill="none" stroke="#fff" stroke-width="1.9" stroke-linecap="round" stroke-linejoin="round"/></svg>
<div class="t" style="left:392px;top:529.15px;font-size:14px;line-height:14px;color:#191b23;">自然流量</div>
<svg class="a" style="left:464px;top:528px;" width="16" height="16" viewBox="0 0 16 16"><rect x="0" y="0" width="16" height="16" rx="4" fill="#ff8c43"/><path d="M4.6 8.2L7 10.6L11.4 5.9" fill="none" stroke="#fff" stroke-width="1.9" stroke-linecap="round" stroke-linejoin="round"/></svg>
<div class="t" style="left:483.7px;top:529.15px;font-size:14px;line-height:14px;color:#191b23;">付费流量</div>
<svg class="a" style="left:556px;top:528px;" width="16" height="16" viewBox="0 0 16 16"><rect x="0" y="0" width="16" height="16" rx="4" fill="#2a9d78"/><path d="M4.6 8.2L7 10.6L11.4 5.9" fill="none" stroke="#fff" stroke-width="1.9" stroke-linecap="round" stroke-linejoin="round"/></svg>
<div class="t" style="left:575.7px;top:529.15px;font-size:14px;line-height:14px;color:#191b23;">品牌流量</div>
<div class="a" style="left:648.5px;top:526px;width:1px;height:21px;background:#c4c7cf;"></div>
<svg class="a" style="left:666px;top:529.5px;width:14px;height:14px;" width="15" height="15" viewBox="0 0 15 15"><path d="M1.2 1.2H13.8V11H5L1.2 14z" fill="none" stroke="#191b23" stroke-width="2.1" stroke-linejoin="miter"/></svg>
<div class="t" style="left:684.7px;top:529.15px;font-size:14px;line-height:14px;color:#191b23;">备注</div>
<svg class="a" style="left:719.5px;top:533.5px;" width="11" height="7.5" viewBox="0 0 11 7.5"><path d="M1.5 1.5L5.5 5.7L9.5 1.5" fill="none" stroke="#191b23" stroke-width="2" stroke-linecap="round" stroke-linejoin="round"/></svg>
<svg class="a" style="left:0;top:0" width="1554" height="1082" viewBox="0 0 1554 1082"><path d="M372 574.5H1439" stroke="#e7e8ef" stroke-width="1.2"/><path d="M372 603H1439" stroke="#e7e8ef" stroke-width="1.2"/><path d="M372 631.5H1439" stroke="#e7e8ef" stroke-width="1.2"/><path d="M372 660H1439" stroke="#d1d4db" stroke-width="1"/><path d="M372.0 660.0C391.8 660.0 399.4 648.8 419.3 648.8C438.5 648.8 445.8 621.0 465.0 621.0C484.8 621.0 492.4 621.3 512.2 621.3C532.1 621.3 539.6 643.7 559.5 643.7C578.7 643.7 586.0 650.0 605.2 650.0C625.1 650.0 632.6 602.0 652.5 602.0C671.7 602.0 679.0 616.0 698.2 616.0C718.0 616.0 725.6 621.3 745.5 621.3C765.3 621.3 772.9 615.3 792.7 615.3C810.6 615.3 817.5 619.2 835.4 619.2C855.2 619.2 862.8 616.1 882.6 616.1C901.8 616.1 909.2 578.5 928.4 578.5C948.2 578.5 955.8 606.8 975.6 606.8C994.8 606.8 1002.1 592.2 1021.3 592.2C1041.2 592.2 1048.8 594.5 1068.6 594.5C1088.4 594.5 1096.0 581.1 1115.9 581.1C1135.1 581.1 1142.4 593.0 1161.6 593.0C1181.4 593.0 1189.0 611.5 1208.8 611.5C1228.0 611.5 1235.4 620.2 1254.6 620.2C1274.4 620.2 1282.0 641.6 1301.8 641.6C1321.7 641.6 1329.2 651.9 1349.1 651.9C1367.0 651.9 1373.8 649.3 1391.7 649.3C1411.6 649.3 1419.2 639.5 1439.0 639.5" fill="none" stroke="#4da9f0" stroke-width="3"/><path d="M372 659.9H1439" stroke="#2a9d78" stroke-width="3.2"/><rect x="1434" y="574" width="10" height="86" fill="#a9abb6" opacity=".22"/><path d="M1439 574V660" stroke="#a9abb6" stroke-width="1" opacity=".6"/></svg>
<div class="t" style="left:415.6px;width:100px;text-align:center;top:672.14px;font-size:12px;line-height:12px;color:#6c6e79;letter-spacing:0.35px">2024年7月</div>
<div class="t" style="left:555.6px;width:100px;text-align:center;top:672.14px;font-size:12px;line-height:12px;color:#6c6e79;letter-spacing:0.35px">2024年10月</div>
<div class="t" style="left:695.6px;width:100px;text-align:center;top:672.14px;font-size:12px;line-height:12px;color:#6c6e79;letter-spacing:0.35px">2025年1月</div>
<div class="t" style="left:832.6px;width:100px;text-align:center;top:672.14px;font-size:12px;line-height:12px;color:#6c6e79;letter-spacing:0.35px">2025年4月</div>
<div class="t" style="left:971.6px;width:100px;text-align:center;top:672.14px;font-size:12px;line-height:12px;color:#6c6e79;letter-spacing:0.35px">2025年7月</div>
<div class="t" style="left:1111.6px;width:100px;text-align:center;top:672.14px;font-size:12px;line-height:12px;color:#6c6e79;letter-spacing:0.35px">2025年10月</div>
<div class="t" style="left:1251.6px;width:100px;text-align:center;top:672.14px;font-size:12px;line-height:12px;color:#6c6e79;letter-spacing:0.35px">2026年1月</div>
<div class="t" style="left:1388.6px;width:100px;text-align:center;top:672.14px;font-size:12px;line-height:12px;color:#6c6e79;letter-spacing:0.35px">2026年4月</div>
<div class="t" style="left:1455px;top:568.34px;font-size:12px;line-height:12px;color:#6c6e79;letter-spacing:0.4px;">98</div>
<div class="t" style="left:1455px;top:596.94px;font-size:12px;line-height:12px;color:#6c6e79;letter-spacing:0.4px;">65</div>
<div class="t" style="left:1455px;top:625.14px;font-size:12px;line-height:12px;color:#6c6e79;letter-spacing:0.4px;">33</div>
<div class="t" style="left:1455px;top:652.64px;font-size:12px;line-height:12px;color:#6c6e79;letter-spacing:0.4px;">0</div>
<div class="t" style="left:372px;top:711.96px;font-size:16px;line-height:16px;color:#191b23;font-weight:700;">关键词</div>
<div class="a" style="left:372px;top:743px;width:118.5px;height:28px;background:#fff;border:1px solid #c4c7cf;border-radius:6px;"></div>
<div class="a" style="left:372px;top:743px;width:74px;height:28px;background:#e8f3fd;border:1px solid #006dca;border-radius:6px 0 0 6px;"></div>
<div class="t" style="left:380.6px;top:750.15px;font-size:14px;line-height:14px;color:#191b23;">自然搜索</div>
<div class="t" style="left:453.6px;top:750.15px;font-size:14px;line-height:14px;color:#191b23;">付费</div>
<svg class="a" style="left:372px;top:791.8px;" width="16" height="16" viewBox="0 0 16 16"><rect x="0" y="0" width="16" height="16" rx="4" fill="#fdc23c"/><path d="M4.6 8.2L7 10.6L11.4 5.9" fill="none" stroke="#fff" stroke-width="1.9" stroke-linecap="round" stroke-linejoin="round"/></svg>
<div class="t" style="left:392.4px;top:793.85px;font-size:14px;line-height:14px;color:#191b23;letter-spacing:0.15px;">排名前 3 名</div>
<svg class="a" style="left:481px;top:791.8px;" width="16" height="16" viewBox="0 0 16 16"><rect x="0" y="0" width="16" height="16" rx="4" fill="#1a6fd1"/><path d="M4.6 8.2L7 10.6L11.4 5.9" fill="none" stroke="#fff" stroke-width="1.9" stroke-linecap="round" stroke-linejoin="round"/></svg>
<div class="t" style="left:500.4px;top:793.85px;font-size:14px;line-height:14px;color:#191b23;letter-spacing:0.3px;">第 4-10 名</div>
<svg class="a" style="left:582px;top:791.8px;" width="16" height="16" viewBox="0 0 16 16"><rect x="0" y="0" width="16" height="16" rx="4" fill="#2693f5"/><path d="M4.6 8.2L7 10.6L11.4 5.9" fill="none" stroke="#fff" stroke-width="1.9" stroke-linecap="round" stroke-linejoin="round"/></svg>
<div class="t" style="left:602.4px;top:793.85px;font-size:14px;line-height:14px;color:#191b23;letter-spacing:-0.05px;">第 11-20 名</div>
<svg class="a" style="left:689.5px;top:791.8px;" width="16" height="16" viewBox="0 0 16 16"><rect x="0" y="0" width="16" height="16" rx="4" fill="#3ab0ff"/><path d="M4.6 8.2L7 10.6L11.4 5.9" fill="none" stroke="#fff" stroke-width="1.9" stroke-linecap="round" stroke-linejoin="round"/></svg>
<div class="t" style="left:708.9px;top:793.85px;font-size:14px;line-height:14px;color:#191b23;letter-spacing:0.3px;">第 21-50 名</div>
<svg class="a" style="left:799px;top:791.8px;" width="16" height="16" viewBox="0 0 16 16"><rect x="0" y="0" width="16" height="16" rx="4" fill="#8ecdff"/><path d="M4.6 8.2L7 10.6L11.4 5.9" fill="none" stroke="#fff" stroke-width="1.9" stroke-linecap="round" stroke-linejoin="round"/></svg>
<div class="t" style="left:818.9px;top:793.85px;font-size:14px;line-height:14px;color:#191b23;letter-spacing:-0.05px;">第 51-100 名</div>
<svg class="a" style="left:914px;top:791.8px;" width="16" height="16" viewBox="0 0 16 16"><rect x="0" y="0" width="16" height="16" rx="4" fill="#ab6cfe"/><path d="M4.6 8.2L7 10.6L11.4 5.9" fill="none" stroke="#fff" stroke-width="1.9" stroke-linecap="round" stroke-linejoin="round"/></svg>
<div class="t" style="left:934.4px;top:793.85px;font-size:14px;line-height:14px;color:#191b23;letter-spacing:0.3px;">AI Overviews</div>
<svg class="a" style="left:1038px;top:791.8px;" width="16" height="16" viewBox="0 0 16 16"><rect x="0" y="0" width="16" height="16" rx="4" fill="#5bbf3a"/><path d="M4.6 8.2L7 10.6L11.4 5.9" fill="none" stroke="#fff" stroke-width="1.9" stroke-linecap="round" stroke-linejoin="round"/></svg>
<div class="t" style="left:1057.4px;top:793.85px;font-size:14px;line-height:14px;color:#191b23;letter-spacing:-0.35px;">SERP 精选结果</div>
<svg class="a" style="left:0;top:0" width="1554" height="1082" viewBox="0 0 1554 1082"><path d="M372 838.5H1439" stroke="#e7e8ef" stroke-width="1.2"/><path d="M372 880H1439" stroke="#e7e8ef" stroke-width="1.2"/><path d="M372 921.5H1439" stroke="#e7e8ef" stroke-width="1.2"/><path d="M372 962.5H1439" stroke="#e7e8ef" stroke-width="1.2"/><path d="M372 1004.3H1439" stroke="#d1d4db" stroke-width="1"/><path d="M372.0 970.3C391.8 970.3 399.4 954.8 419.3 954.8C438.5 954.8 445.8 952.8 465.0 952.8C484.8 952.8 492.4 932.7 512.2 932.7C532.1 932.7 539.6 933.5 559.5 933.5C578.7 933.5 586.0 937.8 605.2 937.8C625.1 937.8 632.6 933.2 652.5 933.2C671.7 933.2 679.0 935.3 698.2 935.3C718.0 935.3 725.6 943.0 745.5 943.0C765.3 943.0 772.9 943.8 792.7 943.8C810.6 943.8 817.5 944.5 835.4 944.5C855.2 944.5 862.8 940.5 882.6 940.5C901.8 940.5 909.2 939.4 928.4 939.4C948.2 939.4 955.8 929.1 975.6 929.1C994.8 929.1 1002.1 919.3 1021.3 919.3C1041.2 919.3 1048.8 900.5 1068.6 900.5C1088.4 900.5 1096.0 887.7 1115.9 887.7C1135.1 887.7 1142.4 890.2 1161.6 890.2C1181.4 890.2 1189.0 885.9 1208.8 885.9C1228.0 885.9 1235.4 878.1 1254.6 878.1C1274.4 878.1 1282.0 872.2 1301.8 872.2C1321.7 872.2 1329.2 851.6 1349.1 851.6C1367.0 851.6 1373.8 855.7 1391.7 855.7C1411.6 855.7 1419.2 862.7 1439.0 862.7L1439 1004.3L372 1004.3z" fill="#d6e7fb" opacity="1"/><path d="M372.0 976.7C391.8 976.7 399.4 961.2 419.3 961.2C438.5 961.2 445.8 959.2 465.0 959.2C484.8 959.2 492.4 939.4 512.2 939.4C532.1 939.4 539.6 940.0 559.5 940.0C578.7 940.0 586.0 944.2 605.2 944.2C625.1 944.2 632.6 939.6 652.5 939.6C671.7 939.6 679.0 941.7 698.2 941.7C718.0 941.7 725.6 949.4 745.5 949.4C765.3 949.4 772.9 950.2 792.7 950.2C810.6 950.2 817.5 950.9 835.4 950.9C855.2 950.9 862.8 946.9 882.6 946.9C901.8 946.9 909.2 945.8 928.4 945.8C948.2 945.8 955.8 935.5 975.6 935.5C994.8 935.5 1002.1 925.7 1021.3 925.7C1041.2 925.7 1048.8 907.5 1068.6 907.5C1088.4 907.5 1096.0 896.7 1115.9 896.7C1135.1 896.7 1142.4 898.5 1161.6 898.5C1181.4 898.5 1189.0 892.3 1208.8 892.3C1228.0 892.3 1235.4 886.4 1254.6 886.4C1274.4 886.4 1282.0 883.8 1301.8 883.8C1321.7 883.8 1329.2 865.6 1349.1 865.6C1367.0 865.6 1373.8 867.6 1391.7 867.6C1411.6 867.6 1419.2 873.5 1439.0 873.5L1439 1004.3L372 1004.3z" fill="#d8eefd" opacity="1"/><path d="M372.0 987.8C391.8 987.8 399.4 977.0 419.3 977.0C438.5 977.0 445.8 974.0 465.0 974.0C484.8 974.0 492.4 963.0 512.2 963.0C532.1 963.0 539.6 962.9 559.5 962.9C578.7 962.9 586.0 966.0 605.2 966.0C625.1 966.0 632.6 963.6 652.5 963.6C671.7 963.6 679.0 962.3 698.2 962.3C718.0 962.3 725.6 975.5 745.5 975.5C765.3 975.5 772.9 971.0 792.7 971.0C810.6 971.0 817.5 974.0 835.4 974.0C855.2 974.0 862.8 970.8 882.6 970.8C901.8 970.8 909.2 962.0 928.4 962.0C948.2 962.0 955.8 952.5 975.6 952.5C994.8 952.5 1002.1 947.4 1021.3 947.4C1041.2 947.4 1048.8 941.5 1068.6 941.5C1088.4 941.5 1096.0 932.7 1115.9 932.7C1135.1 932.7 1142.4 932.7 1161.6 932.7C1181.4 932.7 1189.0 916.5 1208.8 916.5C1228.0 916.5 1235.4 910.6 1254.6 910.6C1274.4 910.6 1282.0 915.8 1301.8 915.8C1321.7 915.8 1329.2 904.2 1349.1 904.2C1367.0 904.2 1373.8 912.7 1391.7 912.7C1411.6 912.7 1419.2 915.0 1439.0 915.0L1439 1004.3L372 1004.3z" fill="#e8f5ff" opacity="1"/><clipPath id="kclip"><path d="M372.0 970.3C391.8 970.3 399.4 954.8 419.3 954.8C438.5 954.8 445.8 952.8 465.0 952.8C484.8 952.8 492.4 932.7 512.2 932.7C532.1 932.7 539.6 933.5 559.5 933.5C578.7 933.5 586.0 937.8 605.2 937.8C625.1 937.8 632.6 933.2 652.5 933.2C671.7 933.2 679.0 935.3 698.2 935.3C718.0 935.3 725.6 943.0 745.5 943.0C765.3 943.0 772.9 943.8 792.7 943.8C810.6 943.8 817.5 944.5 835.4 944.5C855.2 944.5 862.8 940.5 882.6 940.5C901.8 940.5 909.2 939.4 928.4 939.4C948.2 939.4 955.8 929.1 975.6 929.1C994.8 929.1 1002.1 919.3 1021.3 919.3C1041.2 919.3 1048.8 900.5 1068.6 900.5C1088.4 900.5 1096.0 887.7 1115.9 887.7C1135.1 887.7 1142.4 890.2 1161.6 890.2C1181.4 890.2 1189.0 885.9 1208.8 885.9C1228.0 885.9 1235.4 878.1 1254.6 878.1C1274.4 878.1 1282.0 872.2 1301.8 872.2C1321.7 872.2 1329.2 851.6 1349.1 851.6C1367.0 851.6 1373.8 855.7 1391.7 855.7C1411.6 855.7 1419.2 862.7 1439.0 862.7L1439 1004.3L372 1004.3z"/></clipPath><g clip-path="url(#kclip)"><path d="M372 880H1439" stroke="#bfd3ec" stroke-width="1.1" opacity=".6"/><path d="M372 921.5H1439" stroke="#bfd3ec" stroke-width="1.1" opacity=".6"/><path d="M372 962.5H1439" stroke="#bfd3ec" stroke-width="1.1" opacity=".6"/></g><path d="M372.0 987.8C391.8 987.8 399.4 977.0 419.3 977.0C438.5 977.0 445.8 974.0 465.0 974.0C484.8 974.0 492.4 963.0 512.2 963.0C532.1 963.0 539.6 962.9 559.5 962.9C578.7 962.9 586.0 966.0 605.2 966.0C625.1 966.0 632.6 963.6 652.5 963.6C671.7 963.6 679.0 962.3 698.2 962.3C718.0 962.3 725.6 975.5 745.5 975.5C765.3 975.5 772.9 971.0 792.7 971.0C810.6 971.0 817.5 974.0 835.4 974.0C855.2 974.0 862.8 970.8 882.6 970.8C901.8 970.8 909.2 962.0 928.4 962.0C948.2 962.0 955.8 952.5 975.6 952.5C994.8 952.5 1002.1 947.4 1021.3 947.4C1041.2 947.4 1048.8 941.5 1068.6 941.5C1088.4 941.5 1096.0 932.7 1115.9 932.7C1135.1 932.7 1142.4 932.7 1161.6 932.7C1181.4 932.7 1189.0 916.5 1208.8 916.5C1228.0 916.5 1235.4 910.6 1254.6 910.6C1274.4 910.6 1282.0 915.8 1301.8 915.8C1321.7 915.8 1329.2 904.2 1349.1 904.2C1367.0 904.2 1373.8 912.7 1391.7 912.7C1411.6 912.7 1419.2 915.0 1439.0 915.0" fill="none" stroke="#8ecdff" stroke-width="3"/><path d="M372.0 976.7C391.8 976.7 399.4 961.2 419.3 961.2C438.5 961.2 445.8 959.2 465.0 959.2C484.8 959.2 492.4 939.4 512.2 939.4C532.1 939.4 539.6 940.0 559.5 940.0C578.7 940.0 586.0 944.2 605.2 944.2C625.1 944.2 632.6 939.6 652.5 939.6C671.7 939.6 679.0 941.7 698.2 941.7C718.0 941.7 725.6 949.4 745.5 949.4C765.3 949.4 772.9 950.2 792.7 950.2C810.6 950.2 817.5 950.9 835.4 950.9C855.2 950.9 862.8 946.9 882.6 946.9C901.8 946.9 909.2 945.8 928.4 945.8C948.2 945.8 955.8 935.5 975.6 935.5C994.8 935.5 1002.1 925.7 1021.3 925.7C1041.2 925.7 1048.8 907.5 1068.6 907.5C1088.4 907.5 1096.0 896.7 1115.9 896.7C1135.1 896.7 1142.4 898.5 1161.6 898.5C1181.4 898.5 1189.0 892.3 1208.8 892.3C1228.0 892.3 1235.4 886.4 1254.6 886.4C1274.4 886.4 1282.0 883.8 1301.8 883.8C1321.7 883.8 1329.2 865.6 1349.1 865.6C1367.0 865.6 1373.8 867.6 1391.7 867.6C1411.6 867.6 1419.2 873.5 1439.0 873.5" fill="none" stroke="#38b0ff" stroke-width="3"/><path d="M372.0 968.8C391.8 968.8 399.4 953.3 419.3 953.3C438.5 953.3 445.8 951.3 465.0 951.3C484.8 951.3 492.4 931.2 512.2 931.2C532.1 931.2 539.6 932.0 559.5 932.0C578.7 932.0 586.0 936.3 605.2 936.3C625.1 936.3 632.6 931.7 652.5 931.7C671.7 931.7 679.0 933.8 698.2 933.8C718.0 933.8 725.6 941.5 745.5 941.5C765.3 941.5 772.9 942.3 792.7 942.3C810.6 942.3 817.5 943.0 835.4 943.0C855.2 943.0 862.8 939.0 882.6 939.0C901.8 939.0 909.2 937.9 928.4 937.9C948.2 937.9 955.8 927.6 975.6 927.6C994.8 927.6 1002.1 917.8 1021.3 917.8C1041.2 917.8 1048.8 899.0 1068.6 899.0C1088.4 899.0 1096.0 886.2 1115.9 886.2C1135.1 886.2 1142.4 888.7 1161.6 888.7C1181.4 888.7 1189.0 884.4 1208.8 884.4C1228.0 884.4 1235.4 876.6 1254.6 876.6C1274.4 876.6 1282.0 870.7 1301.8 870.7C1321.7 870.7 1329.2 850.1 1349.1 850.1C1367.0 850.1 1373.8 854.2 1391.7 854.2C1411.6 854.2 1419.2 861.2 1439.0 861.2" fill="none" stroke="#fdc23c" stroke-width="1.6"/><path d="M372.0 970.3C391.8 970.3 399.4 954.8 419.3 954.8C438.5 954.8 445.8 952.8 465.0 952.8C484.8 952.8 492.4 932.7 512.2 932.7C532.1 932.7 539.6 933.5 559.5 933.5C578.7 933.5 586.0 937.8 605.2 937.8C625.1 937.8 632.6 933.2 652.5 933.2C671.7 933.2 679.0 935.3 698.2 935.3C718.0 935.3 725.6 943.0 745.5 943.0C765.3 943.0 772.9 943.8 792.7 943.8C810.6 943.8 817.5 944.5 835.4 944.5C855.2 944.5 862.8 940.5 882.6 940.5C901.8 940.5 909.2 939.4 928.4 939.4C948.2 939.4 955.8 929.1 975.6 929.1C994.8 929.1 1002.1 919.3 1021.3 919.3C1041.2 919.3 1048.8 900.5 1068.6 900.5C1088.4 900.5 1096.0 887.7 1115.9 887.7C1135.1 887.7 1142.4 890.2 1161.6 890.2C1181.4 890.2 1189.0 885.9 1208.8 885.9C1228.0 885.9 1235.4 878.1 1254.6 878.1C1274.4 878.1 1282.0 872.2 1301.8 872.2C1321.7 872.2 1329.2 851.6 1349.1 851.6C1367.0 851.6 1373.8 855.7 1391.7 855.7C1411.6 855.7 1419.2 862.7 1439.0 862.7" fill="none" stroke="#1a6fd1" stroke-width="3"/><path d="M372.0 972.5C391.8 972.5 399.4 957.0 419.3 957.0C438.5 957.0 445.8 955.0 465.0 955.0C484.8 955.0 492.4 934.9 512.2 934.9C532.1 934.9 539.6 935.7 559.5 935.7C578.7 935.7 586.0 940.0 605.2 940.0C625.1 940.0 632.6 935.4 652.5 935.4C671.7 935.4 679.0 937.5 698.2 937.5C718.0 937.5 725.6 945.2 745.5 945.2C765.3 945.2 772.9 946.0 792.7 946.0C810.6 946.0 817.5 946.7 835.4 946.7C855.2 946.7 862.8 942.7 882.6 942.7C901.8 942.7 909.2 941.6 928.4 941.6C948.2 941.6 955.8 931.3 975.6 931.3C994.8 931.3 1002.1 921.5 1021.3 921.5C1041.2 921.5 1048.8 902.7 1068.6 902.7C1088.4 902.7 1096.0 889.9 1115.9 889.9C1135.1 889.9 1142.4 892.4 1161.6 892.4C1181.4 892.4 1189.0 888.1 1208.8 888.1C1228.0 888.1 1235.4 880.3 1254.6 880.3C1274.4 880.3 1282.0 874.4 1301.8 874.4C1321.7 874.4 1329.2 853.8 1349.1 853.8C1367.0 853.8 1373.8 857.9 1391.7 857.9C1411.6 857.9 1419.2 864.9 1439.0 864.9" fill="none" stroke="#2388ee" stroke-width="3"/><path d="M372.0 1003.5C391.8 1003.5 399.4 1003.0 419.3 1003.0C438.5 1003.0 445.8 1002.3 465.0 1002.3C484.8 1002.3 492.4 1003.0 512.2 1003.0C532.1 1003.0 539.6 1001.8 559.5 1001.8C578.7 1001.8 586.0 1003.0 605.2 1003.0C625.1 1003.0 632.6 1002.3 652.5 1002.3C671.7 1002.3 679.0 1001.5 698.2 1001.5C718.0 1001.5 725.6 1003.8 745.5 1003.8C765.3 1003.8 772.9 1001.2 792.7 1001.2C810.6 1001.2 817.5 1002.2 835.4 1002.2C855.2 1002.2 862.8 1002.7 882.6 1002.7C901.8 1002.7 909.2 1000.2 928.4 1000.2C948.2 1000.2 955.8 997.6 975.6 997.6C994.8 997.6 1002.1 996.3 1021.3 996.3C1041.2 996.3 1048.8 998.9 1068.6 998.9C1088.4 998.9 1096.0 998.9 1115.9 998.9C1135.1 998.9 1142.4 997.0 1161.6 997.0C1181.4 997.0 1189.0 986.8 1208.8 986.8C1228.0 986.8 1235.4 985.2 1254.6 985.2C1274.4 985.2 1282.0 991.4 1301.8 991.4C1321.7 991.4 1329.2 985.5 1349.1 985.5C1367.0 985.5 1373.8 988.9 1391.7 988.9C1411.6 988.9 1419.2 988.0 1439.0 988.0L1439 1004.3L372 1004.3z" fill="#e1f2d8" opacity="1"/><path d="M372.0 1003.2C391.8 1003.2 399.4 1002.7 419.3 1002.7C438.5 1002.7 445.8 1002.0 465.0 1002.0C484.8 1002.0 492.4 1002.7 512.2 1002.7C532.1 1002.7 539.6 1001.5 559.5 1001.5C578.7 1001.5 586.0 1002.7 605.2 1002.7C625.1 1002.7 632.6 1002.0 652.5 1002.0C671.7 1002.0 679.0 1001.2 698.2 1001.2C718.0 1001.2 725.6 1003.5 745.5 1003.5C765.3 1003.5 772.9 1000.9 792.7 1000.9C810.6 1000.9 817.5 1001.9 835.4 1001.9C855.2 1001.9 862.8 1002.4 882.6 1002.4C901.8 1002.4 909.2 999.9 928.4 999.9C948.2 999.9 955.8 997.3 975.6 997.3C994.8 997.3 1002.1 996.0 1021.3 996.0C1041.2 996.0 1048.8 998.6 1068.6 998.6C1088.4 998.6 1096.0 998.6 1115.9 998.6C1135.1 998.6 1142.4 996.7 1161.6 996.7C1181.4 996.7 1189.0 985.2 1208.8 985.2C1228.0 985.2 1235.4 983.6 1254.6 983.6C1274.4 983.6 1282.0 991.1 1301.8 991.1C1321.7 991.1 1329.2 984.7 1349.1 984.7C1367.0 984.7 1373.8 986.7 1391.7 986.7C1411.6 986.7 1419.2 985.4 1439.0 985.4" fill="none" stroke="#ab6cfe" stroke-width="2"/><path d="M372.0 1003.5C391.8 1003.5 399.4 1003.0 419.3 1003.0C438.5 1003.0 445.8 1002.3 465.0 1002.3C484.8 1002.3 492.4 1003.0 512.2 1003.0C532.1 1003.0 539.6 1001.8 559.5 1001.8C578.7 1001.8 586.0 1003.0 605.2 1003.0C625.1 1003.0 632.6 1002.3 652.5 1002.3C671.7 1002.3 679.0 1001.5 698.2 1001.5C718.0 1001.5 725.6 1003.8 745.5 1003.8C765.3 1003.8 772.9 1001.2 792.7 1001.2C810.6 1001.2 817.5 1002.2 835.4 1002.2C855.2 1002.2 862.8 1002.7 882.6 1002.7C901.8 1002.7 909.2 1000.2 928.4 1000.2C948.2 1000.2 955.8 997.6 975.6 997.6C994.8 997.6 1002.1 996.3 1021.3 996.3C1041.2 996.3 1048.8 998.9 1068.6 998.9C1088.4 998.9 1096.0 998.9 1115.9 998.9C1135.1 998.9 1142.4 997.0 1161.6 997.0C1181.4 997.0 1189.0 986.8 1208.8 986.8C1228.0 986.8 1235.4 985.2 1254.6 985.2C1274.4 985.2 1282.0 991.4 1301.8 991.4C1321.7 991.4 1329.2 985.5 1349.1 985.5C1367.0 985.5 1373.8 988.9 1391.7 988.9C1411.6 988.9 1419.2 988.0 1439.0 988.0" fill="none" stroke="#66b933" stroke-width="3"/><rect x="1434" y="838" width="10" height="166.5" fill="#a9abb6" opacity=".22"/><path d="M1439 838V1004.5" stroke="#a9abb6" stroke-width="1" opacity=".6"/></svg>
<svg class="a" style="left:413.60285714285715px;top:998.0500000000001px" width="11.3" height="11.3" viewBox="0 0 48 48"><circle cx="24" cy="24" r="25" fill="#fff"/><path fill="#EA4335" d="M24 9.5c3.54 0 6.71 1.22 9.21 3.6l6.85-6.85C35.9 2.38 30.47 0 24 0 14.62 0 6.51 5.38 2.56 13.22l7.98 6.19C12.43 13.72 17.74 9.5 24 9.5z"/><path fill="#4285F4" d="M46.98 24.55c0-1.57-.15-3.09-.38-4.55H24v9.02h12.94c-.58 2.96-2.26 5.48-4.78 7.18l7.73 6c4.51-4.18 7.09-10.36 7.09-17.65z"/><path fill="#FBBC05" d="M10.53 28.59c-.48-1.45-.76-2.99-.76-4.59s.27-3.14.76-4.59l-7.98-6.19C.92 16.46 0 20.12 0 24c0 3.88.92 7.54 2.56 10.78l7.97-6.19z"/><path fill="#34A853" d="M24 48c6.48 0 11.93-2.13 15.89-5.81l-7.73-6c-2.15 1.45-4.92 2.3-8.16 2.3-6.26 0-11.57-4.22-13.47-9.91l-7.98 6.19C6.51 42.62 14.62 48 24 48z"/></svg>
<svg class="a" style="left:459.9814285714286px;top:998px;" width="11" height="12" viewBox="0 0 11 12"><path d="M1.3 1H10V7.9H4.3L1 10.6z" fill="#e8212b" stroke="#e8212b" stroke-width="1" stroke-linejoin="round"/></svg>
<svg class="a" style="left:506.5842857142858px;top:998.0500000000001px" width="11.3" height="11.3" viewBox="0 0 48 48"><circle cx="24" cy="24" r="25" fill="#fff"/><path fill="#EA4335" d="M24 9.5c3.54 0 6.71 1.22 9.21 3.6l6.85-6.85C35.9 2.38 30.47 0 24 0 14.62 0 6.51 5.38 2.56 13.22l7.98 6.19C12.43 13.72 17.74 9.5 24 9.5z"/><path fill="#4285F4" d="M46.98 24.55c0-1.57-.15-3.09-.38-4.55H24v9.02h12.94c-.58 2.96-2.26 5.48-4.78 7.18l7.73 6c4.51-4.18 7.09-10.36 7.09-17.65z"/><path fill="#FBBC05" d="M10.53 28.59c-.48-1.45-.76-2.99-.76-4.59s.27-3.14.76-4.59l-7.98-6.19C.92 16.46 0 20.12 0 24c0 3.88.92 7.54 2.56 10.78l7.97-6.19z"/><path fill="#34A853" d="M24 48c6.48 0 11.93-2.13 15.89-5.81l-7.73-6c-2.15 1.45-4.92 2.3-8.16 2.3-6.26 0-11.57-4.22-13.47-9.91l-7.98 6.19C6.51 42.62 14.62 48 24 48z"/></svg>
<svg class="a" style="left:553.8371428571429px;top:998.0500000000001px" width="11.3" height="11.3" viewBox="0 0 48 48"><circle cx="24" cy="24" r="25" fill="#fff"/><path fill="#EA4335" d="M24 9.5c3.54 0 6.71 1.22 9.21 3.6l6.85-6.85C35.9 2.38 30.47 0 24 0 14.62 0 6.51 5.38 2.56 13.22l7.98 6.19C12.43 13.72 17.74 9.5 24 9.5z"/><path fill="#4285F4" d="M46.98 24.55c0-1.57-.15-3.09-.38-4.55H24v9.02h12.94c-.58 2.96-2.26 5.48-4.78 7.18l7.73 6c4.51-4.18 7.09-10.36 7.09-17.65z"/><path fill="#FBBC05" d="M10.53 28.59c-.48-1.45-.76-2.99-.76-4.59s.27-3.14.76-4.59l-7.98-6.19C.92 16.46 0 20.12 0 24c0 3.88.92 7.54 2.56 10.78l7.97-6.19z"/><path fill="#34A853" d="M24 48c6.48 0 11.93-2.13 15.89-5.81l-7.73-6c-2.15 1.45-4.92 2.3-8.16 2.3-6.26 0-11.57-4.22-13.47-9.91l-7.98 6.19C6.51 42.62 14.62 48 24 48z"/></svg>
<svg class="a" style="left:600.2157142857143px;top:998px;" width="11" height="12" viewBox="0 0 11 12"><path d="M1.3 1H10V7.9H4.3L1 10.6z" fill="#e8212b" stroke="#e8212b" stroke-width="1" stroke-linejoin="round"/></svg>
<svg class="a" style="left:646.8185714285714px;top:998.0500000000001px" width="11.3" height="11.3" viewBox="0 0 48 48"><circle cx="24" cy="24" r="25" fill="#fff"/><path fill="#EA4335" d="M24 9.5c3.54 0 6.71 1.22 9.21 3.6l6.85-6.85C35.9 2.38 30.47 0 24 0 14.62 0 6.51 5.38 2.56 13.22l7.98 6.19C12.43 13.72 17.74 9.5 24 9.5z"/><path fill="#4285F4" d="M46.98 24.55c0-1.57-.15-3.09-.38-4.55H24v9.02h12.94c-.58 2.96-2.26 5.48-4.78 7.18l7.73 6c4.51-4.18 7.09-10.36 7.09-17.65z"/><path fill="#FBBC05" d="M10.53 28.59c-.48-1.45-.76-2.99-.76-4.59s.27-3.14.76-4.59l-7.98-6.19C.92 16.46 0 20.12 0 24c0 3.88.92 7.54 2.56 10.78l7.97-6.19z"/><path fill="#34A853" d="M24 48c6.48 0 11.93-2.13 15.89-5.81l-7.73-6c-2.15 1.45-4.92 2.3-8.16 2.3-6.26 0-11.57-4.22-13.47-9.91l-7.98 6.19C6.51 42.62 14.62 48 24 48z"/></svg>
<svg class="a" style="left:692.5471428571428px;top:998.0500000000001px" width="11.3" height="11.3" viewBox="0 0 48 48"><circle cx="24" cy="24" r="25" fill="#fff"/><path fill="#EA4335" d="M24 9.5c3.54 0 6.71 1.22 9.21 3.6l6.85-6.85C35.9 2.38 30.47 0 24 0 14.62 0 6.51 5.38 2.56 13.22l7.98 6.19C12.43 13.72 17.74 9.5 24 9.5z"/><path fill="#4285F4" d="M46.98 24.55c0-1.57-.15-3.09-.38-4.55H24v9.02h12.94c-.58 2.96-2.26 5.48-4.78 7.18l7.73 6c4.51-4.18 7.09-10.36 7.09-17.65z"/><path fill="#FBBC05" d="M10.53 28.59c-.48-1.45-.76-2.99-.76-4.59s.27-3.14.76-4.59l-7.98-6.19C.92 16.46 0 20.12 0 24c0 3.88.92 7.54 2.56 10.78l7.97-6.19z"/><path fill="#34A853" d="M24 48c6.48 0 11.93-2.13 15.89-5.81l-7.73-6c-2.15 1.45-4.92 2.3-8.16 2.3-6.26 0-11.57-4.22-13.47-9.91l-7.98 6.19C6.51 42.62 14.62 48 24 48z"/></svg>
<svg class="a" style="left:740.45px;top:998px;" width="11" height="12" viewBox="0 0 11 12"><path d="M1.3 1H10V7.9H4.3L1 10.6z" fill="#e8212b" stroke="#e8212b" stroke-width="1" stroke-linejoin="round"/></svg>
<svg class="a" style="left:787.702857142857px;top:998px;" width="11" height="12" viewBox="0 0 11 12"><path d="M1.3 1H10V7.9H4.3L1 10.6z" fill="#e8212b" stroke="#e8212b" stroke-width="1" stroke-linejoin="round"/></svg>
<svg class="a" style="left:829.7328571428571px;top:998.0500000000001px" width="11.3" height="11.3" viewBox="0 0 48 48"><circle cx="24" cy="24" r="25" fill="#fff"/><path fill="#EA4335" d="M24 9.5c3.54 0 6.71 1.22 9.21 3.6l6.85-6.85C35.9 2.38 30.47 0 24 0 14.62 0 6.51 5.38 2.56 13.22l7.98 6.19C12.43 13.72 17.74 9.5 24 9.5z"/><path fill="#4285F4" d="M46.98 24.55c0-1.57-.15-3.09-.38-4.55H24v9.02h12.94c-.58 2.96-2.26 5.48-4.78 7.18l7.73 6c4.51-4.18 7.09-10.36 7.09-17.65z"/><path fill="#FBBC05" d="M10.53 28.59c-.48-1.45-.76-2.99-.76-4.59s.27-3.14.76-4.59l-7.98-6.19C.92 16.46 0 20.12 0 24c0 3.88.92 7.54 2.56 10.78l7.97-6.19z"/><path fill="#34A853" d="M24 48c6.48 0 11.93-2.13 15.89-5.81l-7.73-6c-2.15 1.45-4.92 2.3-8.16 2.3-6.26 0-11.57-4.22-13.47-9.91l-7.98 6.19C6.51 42.62 14.62 48 24 48z"/></svg>
<svg class="a" style="left:877.6357142857142px;top:998px;" width="11" height="12" viewBox="0 0 11 12"><path d="M1.3 1H10V7.9H4.3L1 10.6z" fill="#e8212b" stroke="#e8212b" stroke-width="1" stroke-linejoin="round"/></svg>
<svg class="a" style="left:923.3642857142856px;top:998px;" width="11" height="12" viewBox="0 0 11 12"><path d="M1.3 1H10V7.9H4.3L1 10.6z" fill="#e8212b" stroke="#e8212b" stroke-width="1" stroke-linejoin="round"/></svg>
<svg class="a" style="left:970.6171428571429px;top:998px;" width="11" height="12" viewBox="0 0 11 12"><path d="M1.3 1H10V7.9H4.3L1 10.6z" fill="#e8212b" stroke="#e8212b" stroke-width="1" stroke-linejoin="round"/></svg>
<svg class="a" style="left:1015.6957142857143px;top:998.0500000000001px" width="11.3" height="11.3" viewBox="0 0 48 48"><circle cx="24" cy="24" r="25" fill="#fff"/><path fill="#EA4335" d="M24 9.5c3.54 0 6.71 1.22 9.21 3.6l6.85-6.85C35.9 2.38 30.47 0 24 0 14.62 0 6.51 5.38 2.56 13.22l7.98 6.19C12.43 13.72 17.74 9.5 24 9.5z"/><path fill="#4285F4" d="M46.98 24.55c0-1.57-.15-3.09-.38-4.55H24v9.02h12.94c-.58 2.96-2.26 5.48-4.78 7.18l7.73 6c4.51-4.18 7.09-10.36 7.09-17.65z"/><path fill="#FBBC05" d="M10.53 28.59c-.48-1.45-.76-2.99-.76-4.59s.27-3.14.76-4.59l-7.98-6.19C.92 16.46 0 20.12 0 24c0 3.88.92 7.54 2.56 10.78l7.97-6.19z"/><path fill="#34A853" d="M24 48c6.48 0 11.93-2.13 15.89-5.81l-7.73-6c-2.15 1.45-4.92 2.3-8.16 2.3-6.26 0-11.57-4.22-13.47-9.91l-7.98 6.19C6.51 42.62 14.62 48 24 48z"/></svg>
<svg class="a" style="left:1063.5985714285714px;top:998px;" width="11" height="12" viewBox="0 0 11 12"><path d="M1.3 1H10V7.9H4.3L1 10.6z" fill="#e8212b" stroke="#e8212b" stroke-width="1" stroke-linejoin="round"/></svg>
<svg class="a" style="left:1110.8514285714286px;top:998px;" width="11" height="12" viewBox="0 0 11 12"><path d="M1.3 1H10V7.9H4.3L1 10.6z" fill="#e8212b" stroke="#e8212b" stroke-width="1" stroke-linejoin="round"/></svg>
<svg class="a" style="left:1156.58px;top:998px;" width="11" height="12" viewBox="0 0 11 12"><path d="M1.3 1H10V7.9H4.3L1 10.6z" fill="#e8212b" stroke="#e8212b" stroke-width="1" stroke-linejoin="round"/></svg>
<svg class="a" style="left:1203.8328571428572px;top:998px;" width="11" height="12" viewBox="0 0 11 12"><path d="M1.3 1H10V7.9H4.3L1 10.6z" fill="#e8212b" stroke="#e8212b" stroke-width="1" stroke-linejoin="round"/></svg>
<svg class="a" style="left:1249.5614285714287px;top:998px;" width="11" height="12" viewBox="0 0 11 12"><path d="M1.3 1H10V7.9H4.3L1 10.6z" fill="#e8212b" stroke="#e8212b" stroke-width="1" stroke-linejoin="round"/></svg>
<svg class="a" style="left:1296.8142857142857px;top:998px;" width="11" height="12" viewBox="0 0 11 12"><path d="M1.3 1H10V7.9H4.3L1 10.6z" fill="#e8212b" stroke="#e8212b" stroke-width="1" stroke-linejoin="round"/></svg>
<svg class="a" style="left:1344.0671428571427px;top:998px;" width="11" height="12" viewBox="0 0 11 12"><path d="M1.3 1H10V7.9H4.3L1 10.6z" fill="#e8212b" stroke="#e8212b" stroke-width="1" stroke-linejoin="round"/></svg>
<svg class="a" style="left:1386.097142857143px;top:998.0500000000001px" width="11.3" height="11.3" viewBox="0 0 48 48"><circle cx="24" cy="24" r="25" fill="#fff"/><path fill="#EA4335" d="M24 9.5c3.54 0 6.71 1.22 9.21 3.6l6.85-6.85C35.9 2.38 30.47 0 24 0 14.62 0 6.51 5.38 2.56 13.22l7.98 6.19C12.43 13.72 17.74 9.5 24 9.5z"/><path fill="#4285F4" d="M46.98 24.55c0-1.57-.15-3.09-.38-4.55H24v9.02h12.94c-.58 2.96-2.26 5.48-4.78 7.18l7.73 6c4.51-4.18 7.09-10.36 7.09-17.65z"/><path fill="#FBBC05" d="M10.53 28.59c-.48-1.45-.76-2.99-.76-4.59s.27-3.14.76-4.59l-7.98-6.19C.92 16.46 0 20.12 0 24c0 3.88.92 7.54 2.56 10.78l7.97-6.19z"/><path fill="#34A853" d="M24 48c6.48 0 11.93-2.13 15.89-5.81l-7.73-6c-2.15 1.45-4.92 2.3-8.16 2.3-6.26 0-11.57-4.22-13.47-9.91l-7.98 6.19C6.51 42.62 14.62 48 24 48z"/></svg>
<div class="t" style="left:415.6px;width:100px;text-align:center;top:1016.24px;font-size:12px;line-height:12px;color:#6c6e79;letter-spacing:0.35px">2024年7月</div>
<div class="t" style="left:555.6px;width:100px;text-align:center;top:1016.24px;font-size:12px;line-height:12px;color:#6c6e79;letter-spacing:0.35px">2024年10月</div>
<div class="t" style="left:695.6px;width:100px;text-align:center;top:1016.24px;font-size:12px;line-height:12px;color:#6c6e79;letter-spacing:0.35px">2025年1月</div>
<div class="t" style="left:832.6px;width:100px;text-align:center;top:1016.24px;font-size:12px;line-height:12px;color:#6c6e79;letter-spacing:0.35px">2025年4月</div>
<div class="t" style="left:971.6px;width:100px;text-align:center;top:1016.24px;font-size:12px;line-height:12px;color:#6c6e79;letter-spacing:0.35px">2025年7月</div>
<div class="t" style="left:1111.6px;width:100px;text-align:center;top:1016.24px;font-size:12px;line-height:12px;color:#6c6e79;letter-spacing:0.35px">2025年10月</div>
<div class="t" style="left:1251.6px;width:100px;text-align:center;top:1016.24px;font-size:12px;line-height:12px;color:#6c6e79;letter-spacing:0.35px">2026年1月</div>
<div class="t" style="left:1388.6px;width:100px;text-align:center;top:1016.24px;font-size:12px;line-height:12px;color:#6c6e79;letter-spacing:0.35px">2026年4月</div>
<div class="t" style="left:1455px;top:832.14px;font-size:12px;line-height:12px;color:#6c6e79;letter-spacing:0.4px;">401</div>
<div class="t" style="left:1455px;top:873.44px;font-size:12px;line-height:12px;color:#6c6e79;letter-spacing:0.4px;">301</div>
<div class="t" style="left:1455px;top:915.14px;font-size:12px;line-height:12px;color:#6c6e79;letter-spacing:0.4px;">201</div>
<div class="t" style="left:1455px;top:956.14px;font-size:12px;line-height:12px;color:#6c6e79;letter-spacing:0.4px;">100</div>
<div class="t" style="left:1455px;top:997.14px;font-size:12px;line-height:12px;color:#6c6e79;letter-spacing:0.4px;">0</div>
<div class="a" style="left:710px;top:748px;width:3px;height:307px;background:#e8282e;"></div>
</body></html>
